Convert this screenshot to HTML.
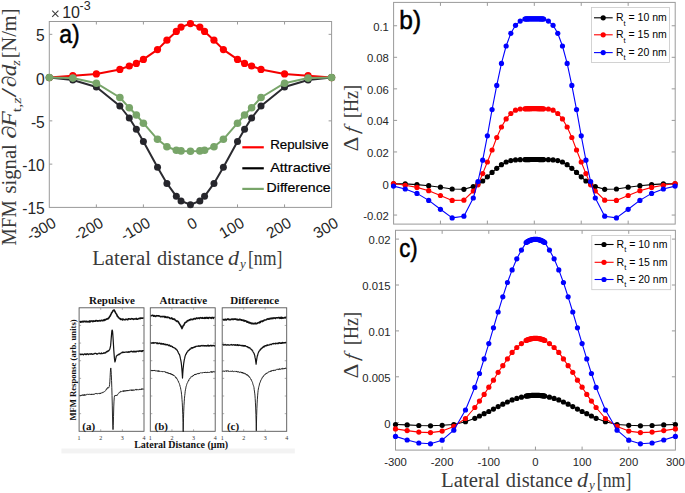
<!DOCTYPE html><html><head><meta charset="utf-8"><title>MFM figure</title><style>html,body{margin:0;padding:0;background:#fff;overflow:hidden}svg{display:block}</style></head><body>
<svg width="685" height="493" viewBox="0 0 685 493">
<rect width="685" height="493" fill="#fff"/>
<rect x="49.3" y="21.5" width="282.3" height="185.9" fill="none" stroke="#9a9a9a" stroke-width="1"/>
<line x1="96.35" y1="207.4" x2="96.35" y2="204.4" stroke="#9a9a9a"/>
<line x1="96.35" y1="21.5" x2="96.35" y2="24.5" stroke="#9a9a9a"/>
<line x1="143.4" y1="207.4" x2="143.4" y2="204.4" stroke="#9a9a9a"/>
<line x1="143.4" y1="21.5" x2="143.4" y2="24.5" stroke="#9a9a9a"/>
<line x1="190.45" y1="207.4" x2="190.45" y2="204.4" stroke="#9a9a9a"/>
<line x1="190.45" y1="21.5" x2="190.45" y2="24.5" stroke="#9a9a9a"/>
<line x1="237.5" y1="207.4" x2="237.5" y2="204.4" stroke="#9a9a9a"/>
<line x1="237.5" y1="21.5" x2="237.5" y2="24.5" stroke="#9a9a9a"/>
<line x1="284.55" y1="207.4" x2="284.55" y2="204.4" stroke="#9a9a9a"/>
<line x1="284.55" y1="21.5" x2="284.55" y2="24.5" stroke="#9a9a9a"/>
<line x1="49.3" y1="34.33" x2="52.3" y2="34.33" stroke="#9a9a9a"/>
<line x1="331.6" y1="34.33" x2="328.6" y2="34.33" stroke="#9a9a9a"/>
<line x1="49.3" y1="77.6" x2="52.3" y2="77.6" stroke="#9a9a9a"/>
<line x1="331.6" y1="77.6" x2="328.6" y2="77.6" stroke="#9a9a9a"/>
<line x1="49.3" y1="120.86" x2="52.3" y2="120.86" stroke="#9a9a9a"/>
<line x1="331.6" y1="120.86" x2="328.6" y2="120.86" stroke="#9a9a9a"/>
<line x1="49.3" y1="164.13" x2="52.3" y2="164.13" stroke="#9a9a9a"/>
<line x1="331.6" y1="164.13" x2="328.6" y2="164.13" stroke="#9a9a9a"/>
<text x="44.8" y="41.33" font-family='"Liberation Sans", sans-serif' font-size="15.6" fill="#262626" text-anchor="end">5</text>
<text x="44.8" y="84.6" font-family='"Liberation Sans", sans-serif' font-size="15.6" fill="#262626" text-anchor="end">0</text>
<text x="44.8" y="127.86" font-family='"Liberation Sans", sans-serif' font-size="15.6" fill="#262626" text-anchor="end">-5</text>
<text x="44.8" y="171.13" font-family='"Liberation Sans", sans-serif' font-size="15.6" fill="#262626" text-anchor="end">-10</text>
<text x="44.8" y="214.4" font-family='"Liberation Sans", sans-serif' font-size="15.6" fill="#262626" text-anchor="end">-15</text>
<text transform="translate(57.3,226) rotate(-30)" font-family='"Liberation Sans", sans-serif' font-size="15.5" fill="#262626" text-anchor="end">-300</text>
<text transform="translate(104.35,226) rotate(-30)" font-family='"Liberation Sans", sans-serif' font-size="15.5" fill="#262626" text-anchor="end">-200</text>
<text transform="translate(151.4,226) rotate(-30)" font-family='"Liberation Sans", sans-serif' font-size="15.5" fill="#262626" text-anchor="end">-100</text>
<text transform="translate(198.45,226) rotate(-30)" font-family='"Liberation Sans", sans-serif' font-size="15.5" fill="#262626" text-anchor="end">0</text>
<text transform="translate(245.5,226) rotate(-30)" font-family='"Liberation Sans", sans-serif' font-size="15.5" fill="#262626" text-anchor="end">100</text>
<text transform="translate(292.55,226) rotate(-30)" font-family='"Liberation Sans", sans-serif' font-size="15.5" fill="#262626" text-anchor="end">200</text>
<text transform="translate(339.6,226) rotate(-30)" font-family='"Liberation Sans", sans-serif' font-size="15.5" fill="#262626" text-anchor="end">300</text>
<path d="M52.2,10.6 L58.4,16.8 M52.2,16.8 L58.4,10.6" stroke="#3a3a3a" stroke-width="1.05" fill="none"/>
<text x="62.2" y="17.9" font-family='"Liberation Sans", sans-serif' font-size="16" fill="#262626">10</text>
<text x="79.6" y="10.2" font-family='"Liberation Sans", sans-serif' font-size="12.5" fill="#262626">-3</text>
<text transform="translate(59.2,42.7) scale(0.87,1)" font-family='"Liberation Sans", sans-serif' font-size="26.5" fill="#000" stroke="#000" stroke-width="0.5">a)</text>
<polyline points="49.3,77.6 72.82,75.7 96.35,73.9 119.87,69.4 129.28,66 136.34,63.4 143.4,59.4 157.51,49.6 166.92,40.2 176.33,31.4 181.04,27.1 190.45,23.6 199.86,27.1 204.56,31.4 213.97,40.2 223.38,49.6 237.5,59.4 244.56,63.4 251.61,66 261.02,69.4 284.55,73.9 308.07,75.7 331.6,77.6" fill="none" stroke="#f40000" stroke-width="2" stroke-linejoin="round"/>
<circle cx="49.3" cy="77.6" r="3.6" fill="#ff0000"/>
<circle cx="72.82" cy="75.7" r="3.6" fill="#ff0000"/>
<circle cx="96.35" cy="73.9" r="3.6" fill="#ff0000"/>
<circle cx="119.87" cy="69.4" r="3.6" fill="#ff0000"/>
<circle cx="129.28" cy="66" r="3.6" fill="#ff0000"/>
<circle cx="136.34" cy="63.4" r="3.6" fill="#ff0000"/>
<circle cx="143.4" cy="59.4" r="3.6" fill="#ff0000"/>
<circle cx="157.51" cy="49.6" r="3.6" fill="#ff0000"/>
<circle cx="166.92" cy="40.2" r="3.6" fill="#ff0000"/>
<circle cx="176.33" cy="31.4" r="3.6" fill="#ff0000"/>
<circle cx="181.04" cy="27.1" r="3.6" fill="#ff0000"/>
<circle cx="190.45" cy="23.6" r="3.6" fill="#ff0000"/>
<circle cx="199.86" cy="27.1" r="3.6" fill="#ff0000"/>
<circle cx="204.56" cy="31.4" r="3.6" fill="#ff0000"/>
<circle cx="213.97" cy="40.2" r="3.6" fill="#ff0000"/>
<circle cx="223.38" cy="49.6" r="3.6" fill="#ff0000"/>
<circle cx="237.5" cy="59.4" r="3.6" fill="#ff0000"/>
<circle cx="244.56" cy="63.4" r="3.6" fill="#ff0000"/>
<circle cx="251.61" cy="66" r="3.6" fill="#ff0000"/>
<circle cx="261.02" cy="69.4" r="3.6" fill="#ff0000"/>
<circle cx="284.55" cy="73.9" r="3.6" fill="#ff0000"/>
<circle cx="308.07" cy="75.7" r="3.6" fill="#ff0000"/>
<circle cx="331.6" cy="77.6" r="3.6" fill="#ff0000"/>
<polyline points="49.3,77.6 72.82,80 96.35,87 119.87,106 129.28,118 136.34,129.2 143.4,141.4 157.51,167.3 166.92,183.4 176.33,196.3 181.04,200.9 190.45,204.7 199.86,200.9 204.56,196.3 213.97,183.4 223.38,167.3 237.5,141.4 244.56,129.2 251.61,118 261.02,106 284.55,87 308.07,80 331.6,77.6" fill="none" stroke="#2b2b30" stroke-width="2" stroke-linejoin="round"/>
<circle cx="49.3" cy="77.6" r="3.5" fill="#26262c"/>
<circle cx="72.82" cy="80" r="3.5" fill="#26262c"/>
<circle cx="96.35" cy="87" r="3.5" fill="#26262c"/>
<circle cx="119.87" cy="106" r="3.5" fill="#26262c"/>
<circle cx="129.28" cy="118" r="3.5" fill="#26262c"/>
<circle cx="136.34" cy="129.2" r="3.5" fill="#26262c"/>
<circle cx="143.4" cy="141.4" r="3.5" fill="#26262c"/>
<circle cx="157.51" cy="167.3" r="3.5" fill="#26262c"/>
<circle cx="166.92" cy="183.4" r="3.5" fill="#26262c"/>
<circle cx="176.33" cy="196.3" r="3.5" fill="#26262c"/>
<circle cx="181.04" cy="200.9" r="3.5" fill="#26262c"/>
<circle cx="190.45" cy="204.7" r="3.5" fill="#26262c"/>
<circle cx="199.86" cy="200.9" r="3.5" fill="#26262c"/>
<circle cx="204.56" cy="196.3" r="3.5" fill="#26262c"/>
<circle cx="213.97" cy="183.4" r="3.5" fill="#26262c"/>
<circle cx="223.38" cy="167.3" r="3.5" fill="#26262c"/>
<circle cx="237.5" cy="141.4" r="3.5" fill="#26262c"/>
<circle cx="244.56" cy="129.2" r="3.5" fill="#26262c"/>
<circle cx="251.61" cy="118" r="3.5" fill="#26262c"/>
<circle cx="261.02" cy="106" r="3.5" fill="#26262c"/>
<circle cx="284.55" cy="87" r="3.5" fill="#26262c"/>
<circle cx="308.07" cy="80" r="3.5" fill="#26262c"/>
<circle cx="331.6" cy="77.6" r="3.5" fill="#26262c"/>
<polyline points="49.3,77.6 72.82,78.1 96.35,83.2 119.87,97.5 129.28,107.8 136.34,115 143.4,123.2 157.51,139.3 166.92,146.7 176.33,150.3 181.04,150.9 190.45,151.2 199.86,150.9 204.56,150.3 213.97,146.7 223.38,139.3 237.5,123.2 244.56,115 251.61,107.8 261.02,97.5 284.55,83.2 308.07,78.1 331.6,77.6" fill="none" stroke="#78a56a" stroke-width="2" stroke-linejoin="round"/>
<circle cx="49.3" cy="77.6" r="3.8" fill="#78a569"/>
<circle cx="72.82" cy="78.1" r="3.8" fill="#78a569"/>
<circle cx="96.35" cy="83.2" r="3.8" fill="#78a569"/>
<circle cx="119.87" cy="97.5" r="3.8" fill="#78a569"/>
<circle cx="129.28" cy="107.8" r="3.8" fill="#78a569"/>
<circle cx="136.34" cy="115" r="3.8" fill="#78a569"/>
<circle cx="143.4" cy="123.2" r="3.8" fill="#78a569"/>
<circle cx="157.51" cy="139.3" r="3.8" fill="#78a569"/>
<circle cx="166.92" cy="146.7" r="3.8" fill="#78a569"/>
<circle cx="176.33" cy="150.3" r="3.8" fill="#78a569"/>
<circle cx="181.04" cy="150.9" r="3.8" fill="#78a569"/>
<circle cx="190.45" cy="151.2" r="3.8" fill="#78a569"/>
<circle cx="199.86" cy="150.9" r="3.8" fill="#78a569"/>
<circle cx="204.56" cy="150.3" r="3.8" fill="#78a569"/>
<circle cx="213.97" cy="146.7" r="3.8" fill="#78a569"/>
<circle cx="223.38" cy="139.3" r="3.8" fill="#78a569"/>
<circle cx="237.5" cy="123.2" r="3.8" fill="#78a569"/>
<circle cx="244.56" cy="115" r="3.8" fill="#78a569"/>
<circle cx="251.61" cy="107.8" r="3.8" fill="#78a569"/>
<circle cx="261.02" cy="97.5" r="3.8" fill="#78a569"/>
<circle cx="284.55" cy="83.2" r="3.8" fill="#78a569"/>
<circle cx="308.07" cy="78.1" r="3.8" fill="#78a569"/>
<circle cx="331.6" cy="77.6" r="3.8" fill="#78a569"/>
<line x1="242.3" y1="147.3" x2="263.8" y2="147.3" stroke="#ff0000" stroke-width="2.2"/>
<line x1="242.3" y1="168.3" x2="263.8" y2="168.3" stroke="#000" stroke-width="2.2"/>
<line x1="242.3" y1="188.9" x2="263.8" y2="188.9" stroke="#78a569" stroke-width="2.2"/>
<text x="270.2" y="149.1" font-family='"Liberation Sans", sans-serif' font-size="13" fill="#000" stroke="#000" stroke-width="0.2" textLength="58.5" lengthAdjust="spacingAndGlyphs">Repulsive</text>
<text x="270.2" y="171.6" font-family='"Liberation Sans", sans-serif' font-size="13" fill="#000" stroke="#000" stroke-width="0.2" textLength="60.3" lengthAdjust="spacingAndGlyphs">Attractive</text>
<text x="266.6" y="192.2" font-family='"Liberation Sans", sans-serif' font-size="13" fill="#000" stroke="#000" stroke-width="0.2" textLength="63.9" lengthAdjust="spacingAndGlyphs">Difference</text>
<text transform="translate(16.4,0) rotate(-90)" x="-245.4" y="0" font-family='"Liberation Serif", serif' font-size="20" fill="#3a3a3a" textLength="45.1" lengthAdjust="spacingAndGlyphs">MFM</text>
<text transform="translate(16.4,0) rotate(-90)" x="-193.6" y="0" font-family='"Liberation Serif", serif' font-size="20" fill="#3a3a3a" textLength="49.4" lengthAdjust="spacingAndGlyphs">signal</text>
<text transform="translate(16.4,0) rotate(-90)" x="-139" y="0" font-family='"Liberation Serif", serif' font-size="20" font-style="italic" fill="#3a3a3a" textLength="13.6" lengthAdjust="spacingAndGlyphs">∂</text>
<text transform="translate(16.4,0) rotate(-90)" x="-127" y="0" font-family='"Liberation Serif", serif' font-size="20" font-style="italic" fill="#3a3a3a" textLength="15.8" lengthAdjust="spacingAndGlyphs">F</text>
<text transform="translate(21,0) rotate(-90)" x="-112.2" y="0" font-family='"Liberation Serif", serif' font-size="13" fill="#3a3a3a" textLength="14.8" lengthAdjust="spacingAndGlyphs">t,<tspan font-style="italic">z</tspan></text>
<text transform="translate(16.4,0) rotate(-90)" x="-97.5" y="0" font-family='"Liberation Serif", serif' font-size="20" fill="#3a3a3a" textLength="9.8" lengthAdjust="spacingAndGlyphs">/</text>
<text transform="translate(16.4,0) rotate(-90)" x="-87.6" y="0" font-family='"Liberation Serif", serif' font-size="20" font-style="italic" fill="#3a3a3a" textLength="11.8" lengthAdjust="spacingAndGlyphs">∂</text>
<text transform="translate(16.4,0) rotate(-90)" x="-76.2" y="0" font-family='"Liberation Serif", serif' font-size="20" font-style="italic" fill="#3a3a3a" textLength="11.6" lengthAdjust="spacingAndGlyphs">d</text>
<text transform="translate(20,0) rotate(-90)" x="-65.8" y="0" font-family='"Liberation Serif", serif' font-size="13" font-style="italic" fill="#3a3a3a" textLength="5.5" lengthAdjust="spacingAndGlyphs">z</text>
<text transform="translate(16.4,0) rotate(-90)" x="-58.2" y="0" font-family='"Liberation Serif", serif' font-size="20" fill="#3a3a3a" textLength="49.6" lengthAdjust="spacingAndGlyphs">[N/m]</text>
<text x="92.2" y="265" font-family='"Liberation Serif", serif' font-size="20" fill="#3a3a3a" textLength="58.8" lengthAdjust="spacingAndGlyphs">Lateral</text>
<text x="156.9" y="265" font-family='"Liberation Serif", serif' font-size="20" fill="#3a3a3a" textLength="66.9" lengthAdjust="spacingAndGlyphs">distance</text>
<text x="228" y="265" font-family='"Liberation Serif", serif' font-size="22" font-style="italic" fill="#3a3a3a">d</text>
<text x="240" y="267.6" font-family='"Liberation Serif", serif' font-size="13" font-style="italic" fill="#3a3a3a">y</text>
<text x="247.9" y="265" font-family='"Liberation Serif", serif' font-size="20" fill="#3a3a3a" textLength="34.5" lengthAdjust="spacingAndGlyphs">[nm]</text>
<rect x="393.6" y="2.4" width="281.6" height="221.7" fill="none" stroke="#9a9a9a" stroke-width="1"/>
<line x1="440.44" y1="224.1" x2="440.44" y2="220.6" stroke="#9a9a9a"/>
<line x1="440.44" y1="2.4" x2="440.44" y2="5.9" stroke="#9a9a9a"/>
<line x1="487.37" y1="224.1" x2="487.37" y2="220.6" stroke="#9a9a9a"/>
<line x1="487.37" y1="2.4" x2="487.37" y2="5.9" stroke="#9a9a9a"/>
<line x1="534.3" y1="224.1" x2="534.3" y2="220.6" stroke="#9a9a9a"/>
<line x1="534.3" y1="2.4" x2="534.3" y2="5.9" stroke="#9a9a9a"/>
<line x1="581.23" y1="224.1" x2="581.23" y2="220.6" stroke="#9a9a9a"/>
<line x1="581.23" y1="2.4" x2="581.23" y2="5.9" stroke="#9a9a9a"/>
<line x1="628.16" y1="224.1" x2="628.16" y2="220.6" stroke="#9a9a9a"/>
<line x1="628.16" y1="2.4" x2="628.16" y2="5.9" stroke="#9a9a9a"/>
<line x1="393.6" y1="25.75" x2="397.1" y2="25.75" stroke="#9a9a9a"/>
<line x1="675.2" y1="25.75" x2="671.7" y2="25.75" stroke="#9a9a9a"/>
<text x="388.9" y="30.75" font-family='"Liberation Sans", sans-serif' font-size="11.3" fill="#262626" text-anchor="end">0.1</text>
<line x1="393.6" y1="57.3" x2="397.1" y2="57.3" stroke="#9a9a9a"/>
<line x1="675.2" y1="57.3" x2="671.7" y2="57.3" stroke="#9a9a9a"/>
<text x="388.9" y="62.3" font-family='"Liberation Sans", sans-serif' font-size="11.3" fill="#262626" text-anchor="end">0.08</text>
<line x1="393.6" y1="88.85" x2="397.1" y2="88.85" stroke="#9a9a9a"/>
<line x1="675.2" y1="88.85" x2="671.7" y2="88.85" stroke="#9a9a9a"/>
<text x="388.9" y="93.85" font-family='"Liberation Sans", sans-serif' font-size="11.3" fill="#262626" text-anchor="end">0.06</text>
<line x1="393.6" y1="120.4" x2="397.1" y2="120.4" stroke="#9a9a9a"/>
<line x1="675.2" y1="120.4" x2="671.7" y2="120.4" stroke="#9a9a9a"/>
<text x="388.9" y="125.4" font-family='"Liberation Sans", sans-serif' font-size="11.3" fill="#262626" text-anchor="end">0.04</text>
<line x1="393.6" y1="151.95" x2="397.1" y2="151.95" stroke="#9a9a9a"/>
<line x1="675.2" y1="151.95" x2="671.7" y2="151.95" stroke="#9a9a9a"/>
<text x="388.9" y="156.95" font-family='"Liberation Sans", sans-serif' font-size="11.3" fill="#262626" text-anchor="end">0.02</text>
<line x1="393.6" y1="183.5" x2="397.1" y2="183.5" stroke="#9a9a9a"/>
<line x1="675.2" y1="183.5" x2="671.7" y2="183.5" stroke="#9a9a9a"/>
<text x="388.9" y="188.5" font-family='"Liberation Sans", sans-serif' font-size="11.3" fill="#262626" text-anchor="end">0</text>
<line x1="393.6" y1="215.05" x2="397.1" y2="215.05" stroke="#9a9a9a"/>
<line x1="675.2" y1="215.05" x2="671.7" y2="215.05" stroke="#9a9a9a"/>
<text x="388.9" y="220.05" font-family='"Liberation Sans", sans-serif' font-size="11.3" fill="#262626" text-anchor="end">-0.02</text>
<text transform="translate(399.3,28.6) scale(0.96,1)" font-family='"Liberation Sans", sans-serif' font-size="25.5" fill="#000" stroke="#000" stroke-width="0.5">b)</text>
<text transform="translate(358.2,0) rotate(-90)" x="-151.5" y="0" font-family='"Liberation Serif", serif' font-size="20" fill="#3a3a3a" textLength="14.9" lengthAdjust="spacingAndGlyphs">Δ</text>
<text transform="translate(358.2,0) rotate(-90) translate(-133.6,0) skewX(-10)" font-family='"Liberation Serif", serif' font-size="20" font-style="italic" fill="#3a3a3a">f</text>
<text transform="translate(358.2,0) rotate(-90)" x="-118" y="0" font-family='"Liberation Serif", serif' font-size="20" fill="#3a3a3a" textLength="33" lengthAdjust="spacingAndGlyphs">[Hz]</text>
<text transform="translate(358.2,0) rotate(-90)" x="-378.5" y="0" font-family='"Liberation Serif", serif' font-size="20" fill="#3a3a3a" textLength="14.9" lengthAdjust="spacingAndGlyphs">Δ</text>
<text transform="translate(358.2,0) rotate(-90) translate(-360.6,0) skewX(-10)" font-family='"Liberation Serif", serif' font-size="20" font-style="italic" fill="#3a3a3a">f</text>
<text transform="translate(358.2,0) rotate(-90)" x="-345" y="0" font-family='"Liberation Serif", serif' font-size="20" fill="#3a3a3a" textLength="33" lengthAdjust="spacingAndGlyphs">[Hz]</text>
<polyline points="393.51,183.9 405.24,183.9 416.97,184.6 428.71,185.7 440.44,187.2 452.17,189 463.9,189.3 473.29,186.6 477.98,183.4 482.68,181 487.37,176.8 492.06,172.4 496.76,168.3 501.45,164.7 506.14,162 510.83,160.6 515.53,159.9 520.22,159.7 524.91,159.6 525.85,159.58 526.79,159.56 527.73,159.55 528.67,159.54 529.61,159.53 530.55,159.52 531.48,159.51 532.42,159.5 533.36,159.5 534.3,159.5 535.24,159.5 536.18,159.5 537.12,159.51 538.05,159.52 538.99,159.53 539.93,159.54 540.87,159.55 541.81,159.56 542.75,159.58 543.69,159.6 548.38,159.7 553.07,159.9 557.76,160.6 562.46,162 567.15,164.7 571.84,168.3 576.54,172.4 581.23,176.8 585.92,181 590.62,183.4 595.31,186.6 604.69,189.3 616.43,189 628.16,187.2 639.89,185.7 651.62,184.6 663.36,183.9 675.09,183.9" fill="none" stroke="#000" stroke-width="1.1" stroke-linejoin="round"/>
<circle cx="393.51" cy="183.9" r="2.6" fill="#000"/>
<circle cx="405.24" cy="183.9" r="2.6" fill="#000"/>
<circle cx="416.97" cy="184.6" r="2.6" fill="#000"/>
<circle cx="428.71" cy="185.7" r="2.6" fill="#000"/>
<circle cx="440.44" cy="187.2" r="2.6" fill="#000"/>
<circle cx="452.17" cy="189" r="2.6" fill="#000"/>
<circle cx="463.9" cy="189.3" r="2.6" fill="#000"/>
<circle cx="473.29" cy="186.6" r="2.6" fill="#000"/>
<circle cx="477.98" cy="183.4" r="2.6" fill="#000"/>
<circle cx="482.68" cy="181" r="2.6" fill="#000"/>
<circle cx="487.37" cy="176.8" r="2.6" fill="#000"/>
<circle cx="492.06" cy="172.4" r="2.6" fill="#000"/>
<circle cx="496.76" cy="168.3" r="2.6" fill="#000"/>
<circle cx="501.45" cy="164.7" r="2.6" fill="#000"/>
<circle cx="506.14" cy="162" r="2.6" fill="#000"/>
<circle cx="510.83" cy="160.6" r="2.6" fill="#000"/>
<circle cx="515.53" cy="159.9" r="2.6" fill="#000"/>
<circle cx="520.22" cy="159.7" r="2.6" fill="#000"/>
<circle cx="524.91" cy="159.6" r="2.6" fill="#000"/>
<circle cx="525.85" cy="159.58" r="2.6" fill="#000"/>
<circle cx="526.79" cy="159.56" r="2.6" fill="#000"/>
<circle cx="527.73" cy="159.55" r="2.6" fill="#000"/>
<circle cx="528.67" cy="159.54" r="2.6" fill="#000"/>
<circle cx="529.61" cy="159.53" r="2.6" fill="#000"/>
<circle cx="530.55" cy="159.52" r="2.6" fill="#000"/>
<circle cx="531.48" cy="159.51" r="2.6" fill="#000"/>
<circle cx="532.42" cy="159.5" r="2.6" fill="#000"/>
<circle cx="533.36" cy="159.5" r="2.6" fill="#000"/>
<circle cx="534.3" cy="159.5" r="2.6" fill="#000"/>
<circle cx="535.24" cy="159.5" r="2.6" fill="#000"/>
<circle cx="536.18" cy="159.5" r="2.6" fill="#000"/>
<circle cx="537.12" cy="159.51" r="2.6" fill="#000"/>
<circle cx="538.05" cy="159.52" r="2.6" fill="#000"/>
<circle cx="538.99" cy="159.53" r="2.6" fill="#000"/>
<circle cx="539.93" cy="159.54" r="2.6" fill="#000"/>
<circle cx="540.87" cy="159.55" r="2.6" fill="#000"/>
<circle cx="541.81" cy="159.56" r="2.6" fill="#000"/>
<circle cx="542.75" cy="159.58" r="2.6" fill="#000"/>
<circle cx="543.69" cy="159.6" r="2.6" fill="#000"/>
<circle cx="548.38" cy="159.7" r="2.6" fill="#000"/>
<circle cx="553.07" cy="159.9" r="2.6" fill="#000"/>
<circle cx="557.76" cy="160.6" r="2.6" fill="#000"/>
<circle cx="562.46" cy="162" r="2.6" fill="#000"/>
<circle cx="567.15" cy="164.7" r="2.6" fill="#000"/>
<circle cx="571.84" cy="168.3" r="2.6" fill="#000"/>
<circle cx="576.54" cy="172.4" r="2.6" fill="#000"/>
<circle cx="581.23" cy="176.8" r="2.6" fill="#000"/>
<circle cx="585.92" cy="181" r="2.6" fill="#000"/>
<circle cx="590.62" cy="183.4" r="2.6" fill="#000"/>
<circle cx="595.31" cy="186.6" r="2.6" fill="#000"/>
<circle cx="604.69" cy="189.3" r="2.6" fill="#000"/>
<circle cx="616.43" cy="189" r="2.6" fill="#000"/>
<circle cx="628.16" cy="187.2" r="2.6" fill="#000"/>
<circle cx="639.89" cy="185.7" r="2.6" fill="#000"/>
<circle cx="651.62" cy="184.6" r="2.6" fill="#000"/>
<circle cx="663.36" cy="183.9" r="2.6" fill="#000"/>
<circle cx="675.09" cy="183.9" r="2.6" fill="#000"/>
<polyline points="393.51,183.5 405.24,185.3 416.97,187.4 428.71,190.7 440.44,195.5 452.17,200.4 463.9,200.2 473.29,191 477.98,184.8 482.68,173.6 487.37,162 492.06,150 496.76,137.5 501.45,127 506.14,118.9 510.83,113.5 515.53,110.2 520.22,109 524.91,108.8 525.85,108.76 526.79,108.73 527.73,108.7 528.67,108.67 529.61,108.65 530.55,108.63 531.48,108.62 532.42,108.61 533.36,108.6 534.3,108.6 535.24,108.6 536.18,108.61 537.12,108.62 538.05,108.63 538.99,108.65 539.93,108.67 540.87,108.7 541.81,108.73 542.75,108.76 543.69,108.8 548.38,109 553.07,110.2 557.76,113.5 562.46,118.9 567.15,127 571.84,137.5 576.54,150 581.23,162 585.92,173.6 590.62,184.8 595.31,191 604.69,200.2 616.43,200.4 628.16,195.5 639.89,190.7 651.62,187.4 663.36,185.3 675.09,183.5" fill="none" stroke="#ff0000" stroke-width="1.1" stroke-linejoin="round"/>
<circle cx="393.51" cy="183.5" r="2.6" fill="#ff0000"/>
<circle cx="405.24" cy="185.3" r="2.6" fill="#ff0000"/>
<circle cx="416.97" cy="187.4" r="2.6" fill="#ff0000"/>
<circle cx="428.71" cy="190.7" r="2.6" fill="#ff0000"/>
<circle cx="440.44" cy="195.5" r="2.6" fill="#ff0000"/>
<circle cx="452.17" cy="200.4" r="2.6" fill="#ff0000"/>
<circle cx="463.9" cy="200.2" r="2.6" fill="#ff0000"/>
<circle cx="473.29" cy="191" r="2.6" fill="#ff0000"/>
<circle cx="477.98" cy="184.8" r="2.6" fill="#ff0000"/>
<circle cx="482.68" cy="173.6" r="2.6" fill="#ff0000"/>
<circle cx="487.37" cy="162" r="2.6" fill="#ff0000"/>
<circle cx="492.06" cy="150" r="2.6" fill="#ff0000"/>
<circle cx="496.76" cy="137.5" r="2.6" fill="#ff0000"/>
<circle cx="501.45" cy="127" r="2.6" fill="#ff0000"/>
<circle cx="506.14" cy="118.9" r="2.6" fill="#ff0000"/>
<circle cx="510.83" cy="113.5" r="2.6" fill="#ff0000"/>
<circle cx="515.53" cy="110.2" r="2.6" fill="#ff0000"/>
<circle cx="520.22" cy="109" r="2.6" fill="#ff0000"/>
<circle cx="524.91" cy="108.8" r="2.6" fill="#ff0000"/>
<circle cx="525.85" cy="108.76" r="2.6" fill="#ff0000"/>
<circle cx="526.79" cy="108.73" r="2.6" fill="#ff0000"/>
<circle cx="527.73" cy="108.7" r="2.6" fill="#ff0000"/>
<circle cx="528.67" cy="108.67" r="2.6" fill="#ff0000"/>
<circle cx="529.61" cy="108.65" r="2.6" fill="#ff0000"/>
<circle cx="530.55" cy="108.63" r="2.6" fill="#ff0000"/>
<circle cx="531.48" cy="108.62" r="2.6" fill="#ff0000"/>
<circle cx="532.42" cy="108.61" r="2.6" fill="#ff0000"/>
<circle cx="533.36" cy="108.6" r="2.6" fill="#ff0000"/>
<circle cx="534.3" cy="108.6" r="2.6" fill="#ff0000"/>
<circle cx="535.24" cy="108.6" r="2.6" fill="#ff0000"/>
<circle cx="536.18" cy="108.61" r="2.6" fill="#ff0000"/>
<circle cx="537.12" cy="108.62" r="2.6" fill="#ff0000"/>
<circle cx="538.05" cy="108.63" r="2.6" fill="#ff0000"/>
<circle cx="538.99" cy="108.65" r="2.6" fill="#ff0000"/>
<circle cx="539.93" cy="108.67" r="2.6" fill="#ff0000"/>
<circle cx="540.87" cy="108.7" r="2.6" fill="#ff0000"/>
<circle cx="541.81" cy="108.73" r="2.6" fill="#ff0000"/>
<circle cx="542.75" cy="108.76" r="2.6" fill="#ff0000"/>
<circle cx="543.69" cy="108.8" r="2.6" fill="#ff0000"/>
<circle cx="548.38" cy="109" r="2.6" fill="#ff0000"/>
<circle cx="553.07" cy="110.2" r="2.6" fill="#ff0000"/>
<circle cx="557.76" cy="113.5" r="2.6" fill="#ff0000"/>
<circle cx="562.46" cy="118.9" r="2.6" fill="#ff0000"/>
<circle cx="567.15" cy="127" r="2.6" fill="#ff0000"/>
<circle cx="571.84" cy="137.5" r="2.6" fill="#ff0000"/>
<circle cx="576.54" cy="150" r="2.6" fill="#ff0000"/>
<circle cx="581.23" cy="162" r="2.6" fill="#ff0000"/>
<circle cx="585.92" cy="173.6" r="2.6" fill="#ff0000"/>
<circle cx="590.62" cy="184.8" r="2.6" fill="#ff0000"/>
<circle cx="595.31" cy="191" r="2.6" fill="#ff0000"/>
<circle cx="604.69" cy="200.2" r="2.6" fill="#ff0000"/>
<circle cx="616.43" cy="200.4" r="2.6" fill="#ff0000"/>
<circle cx="628.16" cy="195.5" r="2.6" fill="#ff0000"/>
<circle cx="639.89" cy="190.7" r="2.6" fill="#ff0000"/>
<circle cx="651.62" cy="187.4" r="2.6" fill="#ff0000"/>
<circle cx="663.36" cy="185.3" r="2.6" fill="#ff0000"/>
<circle cx="675.09" cy="183.5" r="2.6" fill="#ff0000"/>
<polyline points="393.51,186.1 405.24,189 416.97,193.4 428.71,200.4 440.44,209.3 452.17,217.9 463.9,216.2 473.29,198 477.98,181.5 482.68,160.2 487.37,135.8 492.06,109.6 496.76,85.4 501.45,63.4 506.14,46 510.83,33.3 515.53,25.3 520.22,21.1 524.91,19 525.85,18.96 526.79,18.93 527.73,18.9 528.67,18.87 529.61,18.85 530.55,18.83 531.48,18.82 532.42,18.81 533.36,18.8 534.3,18.8 535.24,18.8 536.18,18.81 537.12,18.82 538.05,18.83 538.99,18.85 539.93,18.87 540.87,18.9 541.81,18.93 542.75,18.96 543.69,19 548.38,21.1 553.07,25.3 557.76,33.3 562.46,46 567.15,63.4 571.84,85.4 576.54,109.6 581.23,135.8 585.92,160.2 590.62,181.5 595.31,198 604.69,216.2 616.43,217.9 628.16,209.3 639.89,200.4 651.62,193.4 663.36,189 675.09,186.1" fill="none" stroke="#0000ff" stroke-width="1.1" stroke-linejoin="round"/>
<circle cx="393.51" cy="186.1" r="2.6" fill="#0000ff"/>
<circle cx="405.24" cy="189" r="2.6" fill="#0000ff"/>
<circle cx="416.97" cy="193.4" r="2.6" fill="#0000ff"/>
<circle cx="428.71" cy="200.4" r="2.6" fill="#0000ff"/>
<circle cx="440.44" cy="209.3" r="2.6" fill="#0000ff"/>
<circle cx="452.17" cy="217.9" r="2.6" fill="#0000ff"/>
<circle cx="463.9" cy="216.2" r="2.6" fill="#0000ff"/>
<circle cx="473.29" cy="198" r="2.6" fill="#0000ff"/>
<circle cx="477.98" cy="181.5" r="2.6" fill="#0000ff"/>
<circle cx="482.68" cy="160.2" r="2.6" fill="#0000ff"/>
<circle cx="487.37" cy="135.8" r="2.6" fill="#0000ff"/>
<circle cx="492.06" cy="109.6" r="2.6" fill="#0000ff"/>
<circle cx="496.76" cy="85.4" r="2.6" fill="#0000ff"/>
<circle cx="501.45" cy="63.4" r="2.6" fill="#0000ff"/>
<circle cx="506.14" cy="46" r="2.6" fill="#0000ff"/>
<circle cx="510.83" cy="33.3" r="2.6" fill="#0000ff"/>
<circle cx="515.53" cy="25.3" r="2.6" fill="#0000ff"/>
<circle cx="520.22" cy="21.1" r="2.6" fill="#0000ff"/>
<circle cx="524.91" cy="19" r="2.6" fill="#0000ff"/>
<circle cx="525.85" cy="18.96" r="2.6" fill="#0000ff"/>
<circle cx="526.79" cy="18.93" r="2.6" fill="#0000ff"/>
<circle cx="527.73" cy="18.9" r="2.6" fill="#0000ff"/>
<circle cx="528.67" cy="18.87" r="2.6" fill="#0000ff"/>
<circle cx="529.61" cy="18.85" r="2.6" fill="#0000ff"/>
<circle cx="530.55" cy="18.83" r="2.6" fill="#0000ff"/>
<circle cx="531.48" cy="18.82" r="2.6" fill="#0000ff"/>
<circle cx="532.42" cy="18.81" r="2.6" fill="#0000ff"/>
<circle cx="533.36" cy="18.8" r="2.6" fill="#0000ff"/>
<circle cx="534.3" cy="18.8" r="2.6" fill="#0000ff"/>
<circle cx="535.24" cy="18.8" r="2.6" fill="#0000ff"/>
<circle cx="536.18" cy="18.81" r="2.6" fill="#0000ff"/>
<circle cx="537.12" cy="18.82" r="2.6" fill="#0000ff"/>
<circle cx="538.05" cy="18.83" r="2.6" fill="#0000ff"/>
<circle cx="538.99" cy="18.85" r="2.6" fill="#0000ff"/>
<circle cx="539.93" cy="18.87" r="2.6" fill="#0000ff"/>
<circle cx="540.87" cy="18.9" r="2.6" fill="#0000ff"/>
<circle cx="541.81" cy="18.93" r="2.6" fill="#0000ff"/>
<circle cx="542.75" cy="18.96" r="2.6" fill="#0000ff"/>
<circle cx="543.69" cy="19" r="2.6" fill="#0000ff"/>
<circle cx="548.38" cy="21.1" r="2.6" fill="#0000ff"/>
<circle cx="553.07" cy="25.3" r="2.6" fill="#0000ff"/>
<circle cx="557.76" cy="33.3" r="2.6" fill="#0000ff"/>
<circle cx="562.46" cy="46" r="2.6" fill="#0000ff"/>
<circle cx="567.15" cy="63.4" r="2.6" fill="#0000ff"/>
<circle cx="571.84" cy="85.4" r="2.6" fill="#0000ff"/>
<circle cx="576.54" cy="109.6" r="2.6" fill="#0000ff"/>
<circle cx="581.23" cy="135.8" r="2.6" fill="#0000ff"/>
<circle cx="585.92" cy="160.2" r="2.6" fill="#0000ff"/>
<circle cx="590.62" cy="181.5" r="2.6" fill="#0000ff"/>
<circle cx="595.31" cy="198" r="2.6" fill="#0000ff"/>
<circle cx="604.69" cy="216.2" r="2.6" fill="#0000ff"/>
<circle cx="616.43" cy="217.9" r="2.6" fill="#0000ff"/>
<circle cx="628.16" cy="209.3" r="2.6" fill="#0000ff"/>
<circle cx="639.89" cy="200.4" r="2.6" fill="#0000ff"/>
<circle cx="651.62" cy="193.4" r="2.6" fill="#0000ff"/>
<circle cx="663.36" cy="189" r="2.6" fill="#0000ff"/>
<circle cx="675.09" cy="186.1" r="2.6" fill="#0000ff"/>
<rect x="591.4" y="7.4" width="78.1" height="55.1" fill="#fff" stroke="#c8c8c8" stroke-width="0.8"/>
<line x1="594" y1="17.8" x2="612.7" y2="17.8" stroke="#000" stroke-width="1.1"/>
<circle cx="603.2" cy="17.8" r="2.6" fill="#000"/>
<text x="615.9" y="21.4" font-family='"Liberation Sans", sans-serif' font-size="10.5" fill="#000">R<tspan font-size="7.5" dy="4.2">t</tspan><tspan dy="-4.2"> = 10 nm</tspan></text>
<line x1="594" y1="34.8" x2="612.7" y2="34.8" stroke="#ff0000" stroke-width="1.1"/>
<circle cx="603.2" cy="34.8" r="2.6" fill="#ff0000"/>
<text x="615.9" y="38.4" font-family='"Liberation Sans", sans-serif' font-size="10.5" fill="#000">R<tspan font-size="7.5" dy="4.2">t</tspan><tspan dy="-4.2"> = 15 nm</tspan></text>
<line x1="594" y1="52.6" x2="612.7" y2="52.6" stroke="#0000ff" stroke-width="1.1"/>
<circle cx="603.2" cy="52.6" r="2.6" fill="#0000ff"/>
<text x="615.9" y="56.2" font-family='"Liberation Sans", sans-serif' font-size="10.5" fill="#000">R<tspan font-size="7.5" dy="4.2">t</tspan><tspan dy="-4.2"> = 20 nm</tspan></text>
<rect x="395.5" y="230.3" width="279.9" height="219.8" fill="none" stroke="#9a9a9a" stroke-width="1"/>
<line x1="442.15" y1="450.1" x2="442.15" y2="446.6" stroke="#9a9a9a"/>
<line x1="442.15" y1="230.3" x2="442.15" y2="233.8" stroke="#9a9a9a"/>
<line x1="488.8" y1="450.1" x2="488.8" y2="446.6" stroke="#9a9a9a"/>
<line x1="488.8" y1="230.3" x2="488.8" y2="233.8" stroke="#9a9a9a"/>
<line x1="535.45" y1="450.1" x2="535.45" y2="446.6" stroke="#9a9a9a"/>
<line x1="535.45" y1="230.3" x2="535.45" y2="233.8" stroke="#9a9a9a"/>
<line x1="582.1" y1="450.1" x2="582.1" y2="446.6" stroke="#9a9a9a"/>
<line x1="582.1" y1="230.3" x2="582.1" y2="233.8" stroke="#9a9a9a"/>
<line x1="628.75" y1="450.1" x2="628.75" y2="446.6" stroke="#9a9a9a"/>
<line x1="628.75" y1="230.3" x2="628.75" y2="233.8" stroke="#9a9a9a"/>
<text x="395.5" y="465.7" font-family='"Liberation Sans", sans-serif' font-size="11.3" fill="#262626" text-anchor="middle">-300</text>
<text x="442.15" y="465.7" font-family='"Liberation Sans", sans-serif' font-size="11.3" fill="#262626" text-anchor="middle">-200</text>
<text x="488.8" y="465.7" font-family='"Liberation Sans", sans-serif' font-size="11.3" fill="#262626" text-anchor="middle">-100</text>
<text x="535.45" y="465.7" font-family='"Liberation Sans", sans-serif' font-size="11.3" fill="#262626" text-anchor="middle">0</text>
<text x="582.1" y="465.7" font-family='"Liberation Sans", sans-serif' font-size="11.3" fill="#262626" text-anchor="middle">100</text>
<text x="628.75" y="465.7" font-family='"Liberation Sans", sans-serif' font-size="11.3" fill="#262626" text-anchor="middle">200</text>
<text x="675.4" y="465.7" font-family='"Liberation Sans", sans-serif' font-size="11.3" fill="#262626" text-anchor="middle">300</text>
<line x1="395.5" y1="239.1" x2="399.0" y2="239.1" stroke="#9a9a9a"/>
<line x1="675.4" y1="239.1" x2="671.9" y2="239.1" stroke="#9a9a9a"/>
<text x="390.6" y="244.1" font-family='"Liberation Sans", sans-serif' font-size="11.3" fill="#262626" text-anchor="end">0.02</text>
<line x1="395.5" y1="285" x2="399.0" y2="285" stroke="#9a9a9a"/>
<line x1="675.4" y1="285" x2="671.9" y2="285" stroke="#9a9a9a"/>
<text x="390.6" y="290" font-family='"Liberation Sans", sans-serif' font-size="11.3" fill="#262626" text-anchor="end">0.015</text>
<line x1="395.5" y1="330.9" x2="399.0" y2="330.9" stroke="#9a9a9a"/>
<line x1="675.4" y1="330.9" x2="671.9" y2="330.9" stroke="#9a9a9a"/>
<text x="390.6" y="335.9" font-family='"Liberation Sans", sans-serif' font-size="11.3" fill="#262626" text-anchor="end">0.01</text>
<line x1="395.5" y1="376.8" x2="399.0" y2="376.8" stroke="#9a9a9a"/>
<line x1="675.4" y1="376.8" x2="671.9" y2="376.8" stroke="#9a9a9a"/>
<text x="390.6" y="381.8" font-family='"Liberation Sans", sans-serif' font-size="11.3" fill="#262626" text-anchor="end">0.005</text>
<line x1="395.5" y1="422.7" x2="399.0" y2="422.7" stroke="#9a9a9a"/>
<line x1="675.4" y1="422.7" x2="671.9" y2="422.7" stroke="#9a9a9a"/>
<text x="390.6" y="427.7" font-family='"Liberation Sans", sans-serif' font-size="11.3" fill="#262626" text-anchor="end">0</text>
<text transform="translate(399.2,257.4) scale(0.87,1)" font-family='"Liberation Sans", sans-serif' font-size="25.5" fill="#000" stroke="#000" stroke-width="0.5">c)</text>
<text x="441.1" y="486.5" font-family='"Liberation Serif", serif' font-size="20" fill="#3a3a3a" textLength="58.8" lengthAdjust="spacingAndGlyphs">Lateral</text>
<text x="505.8" y="486.5" font-family='"Liberation Serif", serif' font-size="20" fill="#3a3a3a" textLength="66.9" lengthAdjust="spacingAndGlyphs">distance</text>
<text x="576.9" y="486.5" font-family='"Liberation Serif", serif' font-size="22" font-style="italic" fill="#3a3a3a">d</text>
<text x="588.9" y="489.1" font-family='"Liberation Serif", serif' font-size="13" font-style="italic" fill="#3a3a3a">y</text>
<text x="596.8" y="486.5" font-family='"Liberation Serif", serif' font-size="20" fill="#3a3a3a" textLength="34.5" lengthAdjust="spacingAndGlyphs">[nm]</text>
<polyline points="395.5,424.5 407.16,424.9 418.83,425.5 430.49,425.8 442.15,425.3 453.81,424.5 465.48,421.7 474.81,418.3 479.47,416 484.14,413.7 488.8,411.5 493.47,409.1 498.13,406.6 502.8,404.2 507.46,402 512.12,399.9 516.79,398.4 521.46,397.2 526.12,396.1 527.05,395.95 527.99,395.81 528.92,395.69 529.85,395.59 530.79,395.5 531.72,395.43 532.65,395.37 533.58,395.33 534.52,395.31 535.45,395.3 536.38,395.31 537.32,395.33 538.25,395.37 539.18,395.43 540.12,395.5 541.05,395.59 541.98,395.69 542.91,395.81 543.85,395.95 544.78,396.1 549.45,397.2 554.11,398.4 558.78,399.9 563.44,402 568.11,404.2 572.77,406.6 577.44,409.1 582.1,411.5 586.77,413.7 591.43,416 596.1,418.3 605.43,421.7 617.09,424.5 628.75,425.3 640.41,425.8 652.08,425.5 663.74,424.9 675.4,424.5" fill="none" stroke="#000" stroke-width="1.1" stroke-linejoin="round"/>
<circle cx="395.5" cy="424.5" r="2.6" fill="#000"/>
<circle cx="407.16" cy="424.9" r="2.6" fill="#000"/>
<circle cx="418.83" cy="425.5" r="2.6" fill="#000"/>
<circle cx="430.49" cy="425.8" r="2.6" fill="#000"/>
<circle cx="442.15" cy="425.3" r="2.6" fill="#000"/>
<circle cx="453.81" cy="424.5" r="2.6" fill="#000"/>
<circle cx="465.48" cy="421.7" r="2.6" fill="#000"/>
<circle cx="474.81" cy="418.3" r="2.6" fill="#000"/>
<circle cx="479.47" cy="416" r="2.6" fill="#000"/>
<circle cx="484.14" cy="413.7" r="2.6" fill="#000"/>
<circle cx="488.8" cy="411.5" r="2.6" fill="#000"/>
<circle cx="493.47" cy="409.1" r="2.6" fill="#000"/>
<circle cx="498.13" cy="406.6" r="2.6" fill="#000"/>
<circle cx="502.8" cy="404.2" r="2.6" fill="#000"/>
<circle cx="507.46" cy="402" r="2.6" fill="#000"/>
<circle cx="512.12" cy="399.9" r="2.6" fill="#000"/>
<circle cx="516.79" cy="398.4" r="2.6" fill="#000"/>
<circle cx="521.46" cy="397.2" r="2.6" fill="#000"/>
<circle cx="526.12" cy="396.1" r="2.6" fill="#000"/>
<circle cx="527.05" cy="395.95" r="2.6" fill="#000"/>
<circle cx="527.99" cy="395.81" r="2.6" fill="#000"/>
<circle cx="528.92" cy="395.69" r="2.6" fill="#000"/>
<circle cx="529.85" cy="395.59" r="2.6" fill="#000"/>
<circle cx="530.79" cy="395.5" r="2.6" fill="#000"/>
<circle cx="531.72" cy="395.43" r="2.6" fill="#000"/>
<circle cx="532.65" cy="395.37" r="2.6" fill="#000"/>
<circle cx="533.58" cy="395.33" r="2.6" fill="#000"/>
<circle cx="534.52" cy="395.31" r="2.6" fill="#000"/>
<circle cx="535.45" cy="395.3" r="2.6" fill="#000"/>
<circle cx="536.38" cy="395.31" r="2.6" fill="#000"/>
<circle cx="537.32" cy="395.33" r="2.6" fill="#000"/>
<circle cx="538.25" cy="395.37" r="2.6" fill="#000"/>
<circle cx="539.18" cy="395.43" r="2.6" fill="#000"/>
<circle cx="540.12" cy="395.5" r="2.6" fill="#000"/>
<circle cx="541.05" cy="395.59" r="2.6" fill="#000"/>
<circle cx="541.98" cy="395.69" r="2.6" fill="#000"/>
<circle cx="542.91" cy="395.81" r="2.6" fill="#000"/>
<circle cx="543.85" cy="395.95" r="2.6" fill="#000"/>
<circle cx="544.78" cy="396.1" r="2.6" fill="#000"/>
<circle cx="549.45" cy="397.2" r="2.6" fill="#000"/>
<circle cx="554.11" cy="398.4" r="2.6" fill="#000"/>
<circle cx="558.78" cy="399.9" r="2.6" fill="#000"/>
<circle cx="563.44" cy="402" r="2.6" fill="#000"/>
<circle cx="568.11" cy="404.2" r="2.6" fill="#000"/>
<circle cx="572.77" cy="406.6" r="2.6" fill="#000"/>
<circle cx="577.44" cy="409.1" r="2.6" fill="#000"/>
<circle cx="582.1" cy="411.5" r="2.6" fill="#000"/>
<circle cx="586.77" cy="413.7" r="2.6" fill="#000"/>
<circle cx="591.43" cy="416" r="2.6" fill="#000"/>
<circle cx="596.1" cy="418.3" r="2.6" fill="#000"/>
<circle cx="605.43" cy="421.7" r="2.6" fill="#000"/>
<circle cx="617.09" cy="424.5" r="2.6" fill="#000"/>
<circle cx="628.75" cy="425.3" r="2.6" fill="#000"/>
<circle cx="640.41" cy="425.8" r="2.6" fill="#000"/>
<circle cx="652.08" cy="425.5" r="2.6" fill="#000"/>
<circle cx="663.74" cy="424.9" r="2.6" fill="#000"/>
<circle cx="675.4" cy="424.5" r="2.6" fill="#000"/>
<polyline points="395.5,428.9 407.16,430.6 418.83,432.1 430.49,432.6 442.15,431.1 453.81,426.4 465.48,418.5 474.81,407.5 479.47,401.1 484.14,394.4 488.8,387.2 493.47,380.2 498.13,372.3 502.8,365.7 507.46,358.9 512.12,352.4 516.79,347.5 521.46,343.6 526.12,340.4 527.05,340 527.99,339.64 528.92,339.33 529.85,339.06 530.79,338.82 531.72,338.64 532.65,338.49 533.58,338.38 534.52,338.32 535.45,338.3 536.38,338.32 537.32,338.38 538.25,338.49 539.18,338.64 540.12,338.82 541.05,339.06 541.98,339.33 542.91,339.64 543.85,340 544.78,340.4 549.45,343.6 554.11,347.5 558.78,352.4 563.44,358.9 568.11,365.7 572.77,372.3 577.44,380.2 582.1,387.2 586.77,394.4 591.43,401.1 596.1,407.5 605.43,418.5 617.09,426.4 628.75,431.1 640.41,432.6 652.08,432.1 663.74,430.6 675.4,428.9" fill="none" stroke="#ff0000" stroke-width="1.1" stroke-linejoin="round"/>
<circle cx="395.5" cy="428.9" r="2.6" fill="#ff0000"/>
<circle cx="407.16" cy="430.6" r="2.6" fill="#ff0000"/>
<circle cx="418.83" cy="432.1" r="2.6" fill="#ff0000"/>
<circle cx="430.49" cy="432.6" r="2.6" fill="#ff0000"/>
<circle cx="442.15" cy="431.1" r="2.6" fill="#ff0000"/>
<circle cx="453.81" cy="426.4" r="2.6" fill="#ff0000"/>
<circle cx="465.48" cy="418.5" r="2.6" fill="#ff0000"/>
<circle cx="474.81" cy="407.5" r="2.6" fill="#ff0000"/>
<circle cx="479.47" cy="401.1" r="2.6" fill="#ff0000"/>
<circle cx="484.14" cy="394.4" r="2.6" fill="#ff0000"/>
<circle cx="488.8" cy="387.2" r="2.6" fill="#ff0000"/>
<circle cx="493.47" cy="380.2" r="2.6" fill="#ff0000"/>
<circle cx="498.13" cy="372.3" r="2.6" fill="#ff0000"/>
<circle cx="502.8" cy="365.7" r="2.6" fill="#ff0000"/>
<circle cx="507.46" cy="358.9" r="2.6" fill="#ff0000"/>
<circle cx="512.12" cy="352.4" r="2.6" fill="#ff0000"/>
<circle cx="516.79" cy="347.5" r="2.6" fill="#ff0000"/>
<circle cx="521.46" cy="343.6" r="2.6" fill="#ff0000"/>
<circle cx="526.12" cy="340.4" r="2.6" fill="#ff0000"/>
<circle cx="527.05" cy="340" r="2.6" fill="#ff0000"/>
<circle cx="527.99" cy="339.64" r="2.6" fill="#ff0000"/>
<circle cx="528.92" cy="339.33" r="2.6" fill="#ff0000"/>
<circle cx="529.85" cy="339.06" r="2.6" fill="#ff0000"/>
<circle cx="530.79" cy="338.82" r="2.6" fill="#ff0000"/>
<circle cx="531.72" cy="338.64" r="2.6" fill="#ff0000"/>
<circle cx="532.65" cy="338.49" r="2.6" fill="#ff0000"/>
<circle cx="533.58" cy="338.38" r="2.6" fill="#ff0000"/>
<circle cx="534.52" cy="338.32" r="2.6" fill="#ff0000"/>
<circle cx="535.45" cy="338.3" r="2.6" fill="#ff0000"/>
<circle cx="536.38" cy="338.32" r="2.6" fill="#ff0000"/>
<circle cx="537.32" cy="338.38" r="2.6" fill="#ff0000"/>
<circle cx="538.25" cy="338.49" r="2.6" fill="#ff0000"/>
<circle cx="539.18" cy="338.64" r="2.6" fill="#ff0000"/>
<circle cx="540.12" cy="338.82" r="2.6" fill="#ff0000"/>
<circle cx="541.05" cy="339.06" r="2.6" fill="#ff0000"/>
<circle cx="541.98" cy="339.33" r="2.6" fill="#ff0000"/>
<circle cx="542.91" cy="339.64" r="2.6" fill="#ff0000"/>
<circle cx="543.85" cy="340" r="2.6" fill="#ff0000"/>
<circle cx="544.78" cy="340.4" r="2.6" fill="#ff0000"/>
<circle cx="549.45" cy="343.6" r="2.6" fill="#ff0000"/>
<circle cx="554.11" cy="347.5" r="2.6" fill="#ff0000"/>
<circle cx="558.78" cy="352.4" r="2.6" fill="#ff0000"/>
<circle cx="563.44" cy="358.9" r="2.6" fill="#ff0000"/>
<circle cx="568.11" cy="365.7" r="2.6" fill="#ff0000"/>
<circle cx="572.77" cy="372.3" r="2.6" fill="#ff0000"/>
<circle cx="577.44" cy="380.2" r="2.6" fill="#ff0000"/>
<circle cx="582.1" cy="387.2" r="2.6" fill="#ff0000"/>
<circle cx="586.77" cy="394.4" r="2.6" fill="#ff0000"/>
<circle cx="591.43" cy="401.1" r="2.6" fill="#ff0000"/>
<circle cx="596.1" cy="407.5" r="2.6" fill="#ff0000"/>
<circle cx="605.43" cy="418.5" r="2.6" fill="#ff0000"/>
<circle cx="617.09" cy="426.4" r="2.6" fill="#ff0000"/>
<circle cx="628.75" cy="431.1" r="2.6" fill="#ff0000"/>
<circle cx="640.41" cy="432.6" r="2.6" fill="#ff0000"/>
<circle cx="652.08" cy="432.1" r="2.6" fill="#ff0000"/>
<circle cx="663.74" cy="430.6" r="2.6" fill="#ff0000"/>
<circle cx="675.4" cy="428.9" r="2.6" fill="#ff0000"/>
<polyline points="395.5,436.4 407.16,440 418.83,443 430.49,443.8 442.15,440.2 453.81,430.2 465.48,410 474.81,387.4 479.47,373.5 484.14,358.9 488.8,343.6 493.47,327.8 498.13,312 502.8,296.8 507.46,282.5 512.12,269.9 516.79,258.8 521.46,250.1 526.12,242.5 527.05,241.89 527.99,241.35 528.92,240.87 529.85,240.45 530.79,240.1 531.72,239.81 532.65,239.59 533.58,239.43 534.52,239.33 535.45,239.3 536.38,239.33 537.32,239.43 538.25,239.59 539.18,239.81 540.12,240.1 541.05,240.45 541.98,240.87 542.91,241.35 543.85,241.89 544.78,242.5 549.45,250.1 554.11,258.8 558.78,269.9 563.44,282.5 568.11,296.8 572.77,312 577.44,327.8 582.1,343.6 586.77,358.9 591.43,373.5 596.1,387.4 605.43,410 617.09,430.2 628.75,440.2 640.41,443.8 652.08,443 663.74,440 675.4,436.4" fill="none" stroke="#0000ff" stroke-width="1.1" stroke-linejoin="round"/>
<circle cx="395.5" cy="436.4" r="2.6" fill="#0000ff"/>
<circle cx="407.16" cy="440" r="2.6" fill="#0000ff"/>
<circle cx="418.83" cy="443" r="2.6" fill="#0000ff"/>
<circle cx="430.49" cy="443.8" r="2.6" fill="#0000ff"/>
<circle cx="442.15" cy="440.2" r="2.6" fill="#0000ff"/>
<circle cx="453.81" cy="430.2" r="2.6" fill="#0000ff"/>
<circle cx="465.48" cy="410" r="2.6" fill="#0000ff"/>
<circle cx="474.81" cy="387.4" r="2.6" fill="#0000ff"/>
<circle cx="479.47" cy="373.5" r="2.6" fill="#0000ff"/>
<circle cx="484.14" cy="358.9" r="2.6" fill="#0000ff"/>
<circle cx="488.8" cy="343.6" r="2.6" fill="#0000ff"/>
<circle cx="493.47" cy="327.8" r="2.6" fill="#0000ff"/>
<circle cx="498.13" cy="312" r="2.6" fill="#0000ff"/>
<circle cx="502.8" cy="296.8" r="2.6" fill="#0000ff"/>
<circle cx="507.46" cy="282.5" r="2.6" fill="#0000ff"/>
<circle cx="512.12" cy="269.9" r="2.6" fill="#0000ff"/>
<circle cx="516.79" cy="258.8" r="2.6" fill="#0000ff"/>
<circle cx="521.46" cy="250.1" r="2.6" fill="#0000ff"/>
<circle cx="526.12" cy="242.5" r="2.6" fill="#0000ff"/>
<circle cx="527.05" cy="241.89" r="2.6" fill="#0000ff"/>
<circle cx="527.99" cy="241.35" r="2.6" fill="#0000ff"/>
<circle cx="528.92" cy="240.87" r="2.6" fill="#0000ff"/>
<circle cx="529.85" cy="240.45" r="2.6" fill="#0000ff"/>
<circle cx="530.79" cy="240.1" r="2.6" fill="#0000ff"/>
<circle cx="531.72" cy="239.81" r="2.6" fill="#0000ff"/>
<circle cx="532.65" cy="239.59" r="2.6" fill="#0000ff"/>
<circle cx="533.58" cy="239.43" r="2.6" fill="#0000ff"/>
<circle cx="534.52" cy="239.33" r="2.6" fill="#0000ff"/>
<circle cx="535.45" cy="239.3" r="2.6" fill="#0000ff"/>
<circle cx="536.38" cy="239.33" r="2.6" fill="#0000ff"/>
<circle cx="537.32" cy="239.43" r="2.6" fill="#0000ff"/>
<circle cx="538.25" cy="239.59" r="2.6" fill="#0000ff"/>
<circle cx="539.18" cy="239.81" r="2.6" fill="#0000ff"/>
<circle cx="540.12" cy="240.1" r="2.6" fill="#0000ff"/>
<circle cx="541.05" cy="240.45" r="2.6" fill="#0000ff"/>
<circle cx="541.98" cy="240.87" r="2.6" fill="#0000ff"/>
<circle cx="542.91" cy="241.35" r="2.6" fill="#0000ff"/>
<circle cx="543.85" cy="241.89" r="2.6" fill="#0000ff"/>
<circle cx="544.78" cy="242.5" r="2.6" fill="#0000ff"/>
<circle cx="549.45" cy="250.1" r="2.6" fill="#0000ff"/>
<circle cx="554.11" cy="258.8" r="2.6" fill="#0000ff"/>
<circle cx="558.78" cy="269.9" r="2.6" fill="#0000ff"/>
<circle cx="563.44" cy="282.5" r="2.6" fill="#0000ff"/>
<circle cx="568.11" cy="296.8" r="2.6" fill="#0000ff"/>
<circle cx="572.77" cy="312" r="2.6" fill="#0000ff"/>
<circle cx="577.44" cy="327.8" r="2.6" fill="#0000ff"/>
<circle cx="582.1" cy="343.6" r="2.6" fill="#0000ff"/>
<circle cx="586.77" cy="358.9" r="2.6" fill="#0000ff"/>
<circle cx="591.43" cy="373.5" r="2.6" fill="#0000ff"/>
<circle cx="596.1" cy="387.4" r="2.6" fill="#0000ff"/>
<circle cx="605.43" cy="410" r="2.6" fill="#0000ff"/>
<circle cx="617.09" cy="430.2" r="2.6" fill="#0000ff"/>
<circle cx="628.75" cy="440.2" r="2.6" fill="#0000ff"/>
<circle cx="640.41" cy="443.8" r="2.6" fill="#0000ff"/>
<circle cx="652.08" cy="443" r="2.6" fill="#0000ff"/>
<circle cx="663.74" cy="440" r="2.6" fill="#0000ff"/>
<circle cx="675.4" cy="436.4" r="2.6" fill="#0000ff"/>
<rect x="591.8" y="235.4" width="78.9" height="54.3" fill="#fff" stroke="#c8c8c8" stroke-width="0.8"/>
<line x1="594.6" y1="244.5" x2="613.6" y2="244.5" stroke="#000" stroke-width="1.1"/>
<circle cx="604" cy="244.5" r="2.6" fill="#000"/>
<text x="616.6" y="248.1" font-family='"Liberation Sans", sans-serif' font-size="10.5" fill="#000">R<tspan font-size="7.5" dy="4.2">t</tspan><tspan dy="-4.2"> = 10 nm</tspan></text>
<line x1="594.6" y1="262.3" x2="613.6" y2="262.3" stroke="#ff0000" stroke-width="1.1"/>
<circle cx="604" cy="262.3" r="2.6" fill="#ff0000"/>
<text x="616.6" y="265.9" font-family='"Liberation Sans", sans-serif' font-size="10.5" fill="#000">R<tspan font-size="7.5" dy="4.2">t</tspan><tspan dy="-4.2"> = 15 nm</tspan></text>
<line x1="594.6" y1="279.5" x2="613.6" y2="279.5" stroke="#0000ff" stroke-width="1.1"/>
<circle cx="604" cy="279.5" r="2.6" fill="#0000ff"/>
<text x="616.6" y="283.1" font-family='"Liberation Sans", sans-serif' font-size="10.5" fill="#000">R<tspan font-size="7.5" dy="4.2">t</tspan><tspan dy="-4.2"> = 20 nm</tspan></text>
<rect x="61.4" y="448.5" width="233.4" height="4.9" fill="#f3f3f3"/>
<rect x="79.1" y="307.8" width="64.9" height="123.5" fill="none" stroke="#555" stroke-width="0.9"/>
<line x1="100.73" y1="431.3" x2="100.73" y2="429.3" stroke="#777" stroke-width="0.6"/>
<line x1="100.73" y1="307.8" x2="100.73" y2="309.8" stroke="#777" stroke-width="0.6"/>
<line x1="122.37" y1="431.3" x2="122.37" y2="429.3" stroke="#777" stroke-width="0.6"/>
<line x1="122.37" y1="307.8" x2="122.37" y2="309.8" stroke="#777" stroke-width="0.6"/>
<line x1="79.1" y1="325.44" x2="81.1" y2="325.44" stroke="#777" stroke-width="0.6"/>
<line x1="144.0" y1="325.44" x2="142.0" y2="325.44" stroke="#777" stroke-width="0.6"/>
<line x1="79.1" y1="343.09" x2="81.1" y2="343.09" stroke="#777" stroke-width="0.6"/>
<line x1="144.0" y1="343.09" x2="142.0" y2="343.09" stroke="#777" stroke-width="0.6"/>
<line x1="79.1" y1="360.73" x2="81.1" y2="360.73" stroke="#777" stroke-width="0.6"/>
<line x1="144.0" y1="360.73" x2="142.0" y2="360.73" stroke="#777" stroke-width="0.6"/>
<line x1="79.1" y1="378.37" x2="81.1" y2="378.37" stroke="#777" stroke-width="0.6"/>
<line x1="144.0" y1="378.37" x2="142.0" y2="378.37" stroke="#777" stroke-width="0.6"/>
<line x1="79.1" y1="396.01" x2="81.1" y2="396.01" stroke="#777" stroke-width="0.6"/>
<line x1="144.0" y1="396.01" x2="142.0" y2="396.01" stroke="#777" stroke-width="0.6"/>
<line x1="79.1" y1="413.66" x2="81.1" y2="413.66" stroke="#777" stroke-width="0.6"/>
<line x1="144.0" y1="413.66" x2="142.0" y2="413.66" stroke="#777" stroke-width="0.6"/>
<text x="79.1" y="439.5" font-family='"Liberation Serif", serif' font-size="6" fill="#333" text-anchor="middle">1</text>
<text x="100.73" y="439.5" font-family='"Liberation Serif", serif' font-size="6" fill="#333" text-anchor="middle">2</text>
<text x="122.37" y="439.5" font-family='"Liberation Serif", serif' font-size="6" fill="#333" text-anchor="middle">3</text>
<text x="144" y="439.5" font-family='"Liberation Serif", serif' font-size="6" fill="#333" text-anchor="middle">4</text>
<rect x="150.3" y="307.8" width="64.9" height="123.5" fill="none" stroke="#555" stroke-width="0.9"/>
<line x1="171.93" y1="431.3" x2="171.93" y2="429.3" stroke="#777" stroke-width="0.6"/>
<line x1="171.93" y1="307.8" x2="171.93" y2="309.8" stroke="#777" stroke-width="0.6"/>
<line x1="193.57" y1="431.3" x2="193.57" y2="429.3" stroke="#777" stroke-width="0.6"/>
<line x1="193.57" y1="307.8" x2="193.57" y2="309.8" stroke="#777" stroke-width="0.6"/>
<line x1="150.3" y1="325.44" x2="152.3" y2="325.44" stroke="#777" stroke-width="0.6"/>
<line x1="215.2" y1="325.44" x2="213.2" y2="325.44" stroke="#777" stroke-width="0.6"/>
<line x1="150.3" y1="343.09" x2="152.3" y2="343.09" stroke="#777" stroke-width="0.6"/>
<line x1="215.2" y1="343.09" x2="213.2" y2="343.09" stroke="#777" stroke-width="0.6"/>
<line x1="150.3" y1="360.73" x2="152.3" y2="360.73" stroke="#777" stroke-width="0.6"/>
<line x1="215.2" y1="360.73" x2="213.2" y2="360.73" stroke="#777" stroke-width="0.6"/>
<line x1="150.3" y1="378.37" x2="152.3" y2="378.37" stroke="#777" stroke-width="0.6"/>
<line x1="215.2" y1="378.37" x2="213.2" y2="378.37" stroke="#777" stroke-width="0.6"/>
<line x1="150.3" y1="396.01" x2="152.3" y2="396.01" stroke="#777" stroke-width="0.6"/>
<line x1="215.2" y1="396.01" x2="213.2" y2="396.01" stroke="#777" stroke-width="0.6"/>
<line x1="150.3" y1="413.66" x2="152.3" y2="413.66" stroke="#777" stroke-width="0.6"/>
<line x1="215.2" y1="413.66" x2="213.2" y2="413.66" stroke="#777" stroke-width="0.6"/>
<text x="150.3" y="439.5" font-family='"Liberation Serif", serif' font-size="6" fill="#333" text-anchor="middle">1</text>
<text x="171.93" y="439.5" font-family='"Liberation Serif", serif' font-size="6" fill="#333" text-anchor="middle">2</text>
<text x="193.57" y="439.5" font-family='"Liberation Serif", serif' font-size="6" fill="#333" text-anchor="middle">3</text>
<text x="215.2" y="439.5" font-family='"Liberation Serif", serif' font-size="6" fill="#333" text-anchor="middle">4</text>
<rect x="222.2" y="307.8" width="64.5" height="123.5" fill="none" stroke="#555" stroke-width="0.9"/>
<line x1="243.7" y1="431.3" x2="243.7" y2="429.3" stroke="#777" stroke-width="0.6"/>
<line x1="243.7" y1="307.8" x2="243.7" y2="309.8" stroke="#777" stroke-width="0.6"/>
<line x1="265.2" y1="431.3" x2="265.2" y2="429.3" stroke="#777" stroke-width="0.6"/>
<line x1="265.2" y1="307.8" x2="265.2" y2="309.8" stroke="#777" stroke-width="0.6"/>
<line x1="222.2" y1="325.44" x2="224.2" y2="325.44" stroke="#777" stroke-width="0.6"/>
<line x1="286.7" y1="325.44" x2="284.7" y2="325.44" stroke="#777" stroke-width="0.6"/>
<line x1="222.2" y1="343.09" x2="224.2" y2="343.09" stroke="#777" stroke-width="0.6"/>
<line x1="286.7" y1="343.09" x2="284.7" y2="343.09" stroke="#777" stroke-width="0.6"/>
<line x1="222.2" y1="360.73" x2="224.2" y2="360.73" stroke="#777" stroke-width="0.6"/>
<line x1="286.7" y1="360.73" x2="284.7" y2="360.73" stroke="#777" stroke-width="0.6"/>
<line x1="222.2" y1="378.37" x2="224.2" y2="378.37" stroke="#777" stroke-width="0.6"/>
<line x1="286.7" y1="378.37" x2="284.7" y2="378.37" stroke="#777" stroke-width="0.6"/>
<line x1="222.2" y1="396.01" x2="224.2" y2="396.01" stroke="#777" stroke-width="0.6"/>
<line x1="286.7" y1="396.01" x2="284.7" y2="396.01" stroke="#777" stroke-width="0.6"/>
<line x1="222.2" y1="413.66" x2="224.2" y2="413.66" stroke="#777" stroke-width="0.6"/>
<line x1="286.7" y1="413.66" x2="284.7" y2="413.66" stroke="#777" stroke-width="0.6"/>
<text x="222.2" y="439.5" font-family='"Liberation Serif", serif' font-size="6" fill="#333" text-anchor="middle">1</text>
<text x="243.7" y="439.5" font-family='"Liberation Serif", serif' font-size="6" fill="#333" text-anchor="middle">2</text>
<text x="265.2" y="439.5" font-family='"Liberation Serif", serif' font-size="6" fill="#333" text-anchor="middle">3</text>
<text x="286.7" y="439.5" font-family='"Liberation Serif", serif' font-size="6" fill="#333" text-anchor="middle">4</text>
<text x="111.9" y="304.2" font-family='"Liberation Serif", serif' font-size="11" font-weight="bold" fill="#111" text-anchor="middle">Repulsive</text>
<text x="183.3" y="304.2" font-family='"Liberation Serif", serif' font-size="11" font-weight="bold" fill="#111" text-anchor="middle">Attractive</text>
<text x="254.7" y="304.2" font-family='"Liberation Serif", serif' font-size="11" font-weight="bold" fill="#111" text-anchor="middle">Difference</text>
<text x="82.3" y="429.5" font-family='"Liberation Serif", serif' font-size="11" font-weight="bold" fill="#111">(a)</text>
<text x="154.5" y="429.5" font-family='"Liberation Serif", serif' font-size="11" font-weight="bold" fill="#111">(b)</text>
<text x="226.9" y="429.5" font-family='"Liberation Serif", serif' font-size="11" font-weight="bold" fill="#111">(c)</text>
<text x="181.2" y="448.3" font-family='"Liberation Serif", serif' font-size="10" font-weight="bold" fill="#111" text-anchor="middle">Lateral Distance (μm)</text>
<text transform="translate(75.6,370) rotate(-90)" font-family='"Liberation Serif", serif' font-size="8.6" font-weight="bold" fill="#111" text-anchor="middle">MFM Response (arb. units)</text>
<polyline points="79.6,321.82 80.09,321.62 80.58,322.1 81.07,321.49 81.57,321.93 82.06,321.73 82.55,321.39 83.04,321.81 83.53,321.32 84.02,321.68 84.52,321.29 85.01,321.29 85.5,321.59 85.99,321.97 86.48,321.24 86.97,321.31 87.46,321.68 87.96,321.98 88.45,321.58 88.94,321.37 89.43,321.92 89.92,320.96 90.41,321.75 90.91,321.15 91.4,320.98 91.89,320.92 92.38,321.09 92.87,321.57 93.36,320.9 93.85,321.27 94.35,321.3 94.84,321.01 95.33,321.15 95.82,320.64 96.31,320.6 96.8,320.71 97.3,321.15 97.79,320.86 98.28,320.71 98.77,320.93 99.26,320.76 99.75,320.55 100.24,320.99 100.74,320.83 101.23,320.31 101.72,320.57 102.21,320.44 102.7,320.7 103.19,320.47 103.69,319.92 104.18,320.51 104.67,319.53 105.16,319.7 105.65,319.9 106.14,319.14 106.63,319.29 107.13,318.61 107.62,318.96 108.11,318.7 108.6,318.05 109.09,317.78 109.58,316.53 110.08,316.09 110.57,315.06 111.06,314.05 111.55,312.91 112.04,312.35 112.53,311.65 113.02,310.6 113.52,310.49 114.01,309.9 114.5,310.88 114.99,311.45 115.48,312.64 115.97,313.46 116.47,313.98 116.96,315.11 117.45,316.35 117.94,316.54 118.43,317.66 118.92,317.91 119.41,318.27 119.91,318.51 120.4,319.43 120.89,318.92 121.38,319.13 121.87,319.32 122.36,319.83 122.86,319.04 123.35,319.41 123.84,319.5 124.33,319.82 124.82,319.74 125.31,319.77 125.8,319.16 126.3,319.27 126.79,319.19 127.28,319.69 127.77,319.74 128.26,318.91 128.75,318.9 129.25,318.93 129.74,318.91 130.23,319.13 130.72,319.21 131.21,318.85 131.7,318.57 132.19,318.96 132.69,318.88 133.18,319.05 133.67,319.41 134.16,319.12 134.65,318.91 135.14,318.99 135.64,319.02 136.13,318.37 136.62,319.19 137.11,319.04 137.6,319.11 138.09,319 138.58,318.57 139.08,318.55 139.57,318.23 140.06,318.73 140.55,318.13 141.04,318.11 141.53,318.22 142.03,318.15 142.52,318.3 143.01,317.98 143.5,317.9" fill="none" stroke="#111" stroke-width="1.6" stroke-linejoin="round"/>
<polyline points="79.6,354.25 79.92,354.18 80.24,354.43 80.56,354.07 80.88,354.9 81.2,354.62 81.52,354.14 81.84,354.23 82.16,354.3 82.48,354.3 82.79,354.04 83.11,354.75 83.43,354.88 83.75,354.33 84.07,354.33 84.39,353.92 84.71,353.91 85.03,354.14 85.35,354.04 85.67,354.59 85.99,353.9 86.31,353.75 86.63,354.65 86.95,354.21 87.27,353.81 87.59,354.19 87.91,353.66 88.23,354.14 88.55,354.57 88.87,354.44 89.19,354.26 89.5,353.8 89.82,353.89 90.14,353.67 90.46,354.26 90.78,354 91.1,354.23 91.42,353.76 91.74,353.64 92.06,354.21 92.38,354.36 92.7,354.21 93.02,354.15 93.34,354.14 93.66,354.05 93.98,353.52 94.3,353.79 94.62,353.61 94.94,353.26 95.26,353.25 95.57,353.48 95.89,353.44 96.21,353.86 96.53,354.1 96.85,353.58 97.17,354.05 97.49,354.08 97.81,354.03 98.13,353.42 98.45,353.26 98.77,353.25 99.09,353.2 99.41,353.19 99.73,353.59 100.05,353.85 100.37,353.77 100.69,353.38 101.01,353.54 101.33,353.66 101.65,352.92 101.96,353.47 102.28,353.69 102.6,353.53 102.92,353.45 103.24,353.13 103.56,352.78 103.88,353.33 104.2,352.8 104.52,353.18 104.84,353.24 105.16,352.55 105.48,352.42 105.8,352.82 106.12,352.43 106.44,351.69 106.76,351.45 107.08,351.26 107.4,351.8 107.72,351.48 108.04,350.6 108.36,351.06 108.67,351 108.99,350.47 109.31,349.9 109.63,349.7 109.95,348.57 110.27,347.14 110.59,345.89 110.91,342.31 111.23,338.1 111.55,334.34 111.87,330.71 112.19,330.09 112.2,330.05 112.51,330.88 112.83,334.55 113.15,339.49 113.47,344.69 113.79,350.1 114.11,354.41 114.43,358.42 114.75,360.61 114.9,361.94 115.06,361.47 115.38,360.57 115.7,358.89 116.02,357.54 116.34,355.99 116.66,355.98 116.98,355.38 117.3,355.34 117.62,355.27 117.94,354.66 118.26,354.93 118.58,354.48 118.9,354.09 119.22,354.65 119.54,353.78 119.86,353.83 120.18,353.85 120.5,353.45 120.82,353.01 121.13,353.02 121.45,352.89 121.77,352.97 122.09,352.17 122.41,352.52 122.73,352.12 123.05,352.08 123.37,352.52 123.69,352.2 124.01,352.21 124.33,352.38 124.65,352.5 124.97,352 125.29,352.15 125.61,352.02 125.93,352.01 126.25,352.17 126.57,351.91 126.89,351.97 127.21,351.9 127.52,352.34 127.84,352.08 128.16,352.24 128.48,352.29 128.8,351.59 129.12,351.87 129.44,352.24 129.76,352.11 130.08,351.39 130.4,351.36 130.72,351.66 131.04,351.27 131.36,351.42 131.68,351.24 132,351.82 132.32,351.91 132.64,352.01 132.96,351.25 133.28,351.79 133.6,351.72 133.92,351.18 134.23,351.9 134.55,351.97 134.87,351.21 135.19,351.92 135.51,351.35 135.83,351.42 136.15,351.9 136.47,351.73 136.79,351.04 137.11,351.29 137.43,351.36 137.75,351.16 138.07,351 138.39,351.11 138.71,351.49 139.03,350.77 139.35,351.29 139.67,351.16 139.99,350.72 140.31,351.01 140.62,351.29 140.94,351.16 141.26,350.69 141.58,351.59 141.9,351.38 142.22,351.54 142.54,350.66 142.86,350.8 143.18,350.56 143.5,351.28" fill="none" stroke="#111" stroke-width="1.2" stroke-linejoin="round"/>
<polyline points="79.6,395.27 79.85,395.1 80.09,395.37 80.34,395.84 80.58,395.72 80.83,395.13 81.07,395 81.32,395.74 81.57,395.37 81.81,395.48 82.06,394.84 82.3,394.78 82.55,395.39 82.79,395.1 83.04,394.72 83.29,395.56 83.53,395.23 83.78,395.38 84.02,394.63 84.27,395.38 84.52,394.57 84.76,395.34 85.01,394.9 85.25,394.76 85.5,394.95 85.74,395.3 85.99,394.62 86.24,394.45 86.48,394.83 86.73,394.51 86.97,394.36 87.22,394.39 87.46,394.25 87.71,394.38 87.96,394.46 88.2,394.43 88.45,394.86 88.69,394.36 88.94,394.55 89.19,394.2 89.43,394.35 89.68,393.99 89.92,394.2 90.17,393.94 90.41,394.63 90.66,394.43 90.91,394.04 91.15,394.3 91.4,394.73 91.64,393.88 91.89,394.57 92.13,394.16 92.38,394.2 92.63,394.51 92.87,394.04 93.12,394.13 93.36,394.29 93.61,394.56 93.85,393.89 94.1,394.36 94.35,394.21 94.59,394.11 94.84,393.85 95.08,393.77 95.33,393.45 95.57,393.5 95.82,393.42 96.07,394.07 96.31,393.56 96.56,393.44 96.8,393.33 97.05,394.07 97.3,394.07 97.54,393.85 97.79,393.43 98.03,393.37 98.28,393.39 98.52,393.53 98.77,393.21 99.02,393.47 99.26,393.26 99.51,393.93 99.75,393.91 100,393.46 100.24,393.13 100.49,393.81 100.74,393.12 100.98,393.13 101.23,392.73 101.47,393.07 101.72,393.11 101.97,393.07 102.21,392.7 102.46,392.93 102.7,392.33 102.95,392.49 103.19,392.19 103.44,392.36 103.69,391.84 103.93,391.64 104.18,391.72 104.42,391.42 104.67,391.53 104.91,391.2 105.16,391.14 105.41,390.75 105.65,390.49 105.9,390.33 106.14,389.52 106.39,389.13 106.63,389.48 106.88,388.35 107.13,388.65 107.37,388.33 107.62,387.53 107.86,388.16 108.11,388.1 108.35,387.76 108.6,387.81 108.85,387.8 109.09,386.82 109.34,386.39 109.58,384.6 109.83,381.84 110.08,377.48 110.32,372.76 110.57,368.88 110.8,368.14 110.81,367.95 111.06,370.15 111.3,374.47 111.55,380.43 111.8,387.37 112.04,395.52 112.29,405.11 112.53,417 112.78,426.07 113,429.62 113.02,429.62 113.27,425.74 113.52,416.72 113.76,406.96 114.01,401.13 114.25,397.62 114.5,396.04 114.75,395.73 114.99,395.85 115.24,395.3 115.48,395.99 115.73,395.49 115.97,395.25 116.22,395.34 116.47,395.66 116.71,394.96 116.96,395.29 117.2,395.3 117.45,394.57 117.69,394.2 117.94,394.04 118.19,393.98 118.43,393.8 118.68,393.4 118.92,393.18 119.17,392.39 119.41,392.24 119.66,392.15 119.91,392.46 120.15,391.86 120.4,391.98 120.64,391.3 120.89,391.23 121.13,391.34 121.38,391.66 121.63,391.6 121.87,391.52 122.12,391.08 122.36,391.25 122.61,391.15 122.86,391.11 123.1,390.73 123.35,391.47 123.59,390.74 123.84,391.49 124.08,391.42 124.33,390.47 124.58,390.89 124.82,391.22 125.07,391.35 125.31,390.8 125.56,390.59 125.8,390.51 126.05,391.22 126.3,390.46 126.54,390.81 126.79,390.34 127.03,390.7 127.28,391.1 127.53,390.26 127.77,390.92 128.02,390.58 128.26,390.94 128.51,390.73 128.75,390.23 129,390.87 129.25,390.44 129.49,389.95 129.74,389.9 129.98,390.37 130.23,390.3 130.47,390.13 130.72,389.94 130.97,390.12 131.21,390.07 131.46,390.57 131.7,389.7 131.95,390.43 132.19,390.49 132.44,389.75 132.69,390.53 132.93,390.29 133.18,390.45 133.42,389.81 133.67,389.87 133.91,389.87 134.16,390.45 134.41,390.01 134.65,389.76 134.9,389.8 135.14,389.63 135.39,389.37 135.64,389.4 135.88,390.11 136.13,389.54 136.37,390.16 136.62,389.45 136.86,389.44 137.11,389.66 137.36,389.31 137.6,389.47 137.85,390.03 138.09,389.93 138.34,389.84 138.58,389.63 138.83,389.89 139.08,389.89 139.32,389.47 139.57,389.62 139.81,388.92 140.06,389.58 140.31,389.28 140.55,389.55 140.8,389.42 141.04,389.04 141.29,388.77 141.53,389.63 141.78,388.8 142.03,389.12 142.27,388.97 142.52,388.9 142.76,389.31 143.01,389.53 143.25,388.79 143.5,389.16" fill="none" stroke="#111" stroke-width="0.9" stroke-linejoin="round"/>
<polyline points="150.8,315.42 151.29,315.71 151.78,315.57 152.27,315.38 152.77,315.4 153.26,315.48 153.75,316.22 154.24,315.84 154.73,315.6 155.22,316.32 155.72,316.45 156.21,315.94 156.7,315.67 157.19,315.77 157.68,315.71 158.17,316 158.66,315.8 159.16,315.99 159.65,316.06 160.14,316.42 160.63,316.79 161.12,316.71 161.61,316.43 162.11,316.49 162.6,316.66 163.09,316.58 163.58,316.61 164.07,316.4 164.56,316.69 165.05,317.45 165.55,316.69 166.04,317.15 166.53,317.36 167.02,317.68 167.51,317.13 168,317.29 168.5,317.37 168.99,317.63 169.48,317.79 169.97,318.42 170.46,318.45 170.95,318.61 171.44,317.9 171.94,318.07 172.43,318.91 172.92,319.28 173.41,319.04 173.9,319.36 174.39,318.99 174.89,319.62 175.38,320.42 175.87,320.6 176.36,320.94 176.85,321.4 177.34,321.05 177.83,321.33 178.33,321.85 178.82,322.75 179.31,323.5 179.8,324.44 180.29,325 180.78,325.82 181.28,326.96 181.77,327.85 182,328.57 182.26,327.38 182.75,326.98 183.24,325.44 183.73,325.28 184.22,324.27 184.72,323.29 185.21,322.55 185.7,322.19 186.19,322.14 186.68,321.82 187.17,320.89 187.67,320.55 188.16,320.73 188.65,320.54 189.14,320.12 189.63,319.76 190.12,319.95 190.61,319.19 191.11,319.33 191.6,319.35 192.09,319.72 192.58,319.28 193.07,319.41 193.56,318.9 194.06,318.57 194.55,318.49 195.04,319.12 195.53,318.79 196.02,318.33 196.51,317.98 197,318.4 197.5,318.52 197.99,318.21 198.48,318 198.97,318.37 199.46,318.59 199.95,317.85 200.45,317.63 200.94,317.9 201.43,317.95 201.92,318.19 202.41,317.68 202.9,318.26 203.39,318.18 203.89,317.93 204.38,317.62 204.87,318.37 205.36,317.7 205.85,318.2 206.34,317.6 206.84,317.58 207.33,318.11 207.82,317.64 208.31,318.3 208.8,317.84 209.29,317.53 209.78,317.57 210.28,317.76 210.77,318.01 211.26,318.3 211.75,317.5 212.24,317.75 212.73,317.57 213.23,318.34 213.72,317.51 214.21,317.43 214.7,317.45" fill="none" stroke="#111" stroke-width="1.6" stroke-linejoin="round"/>
<polyline points="150.8,342.52 151.12,343.05 151.44,343.06 151.76,342.94 152.08,343.23 152.4,343.19 152.72,342.62 153.04,342.5 153.36,343.28 153.68,343.12 154,342.43 154.31,343.1 154.63,342.84 154.95,342.87 155.27,342.85 155.59,342.72 155.91,342.59 156.23,342.9 156.55,343 156.87,343.64 157.19,342.84 157.51,343.72 157.83,342.99 158.15,343.18 158.47,343.68 158.79,343.72 159.11,343.37 159.43,343.02 159.75,343.48 160.07,343.42 160.39,344.01 160.7,343.33 161.02,343.54 161.34,344.12 161.66,343.3 161.98,343.72 162.3,344.17 162.62,344.18 162.94,343.5 163.26,343.55 163.58,343.63 163.9,344.54 164.22,343.93 164.54,344.48 164.86,344.69 165.18,344.2 165.5,344.19 165.82,344.94 166.14,344.67 166.46,344.39 166.78,344.92 167.09,344.59 167.41,344.63 167.73,344.44 168.05,345.28 168.37,345.53 168.69,345.34 169.01,345.75 169.33,344.94 169.65,345.25 169.97,345.6 170.29,346.2 170.61,346.32 170.93,345.88 171.25,345.88 171.57,346.2 171.89,346.42 172.21,347.01 172.53,346.43 172.85,347.22 173.16,347.34 173.48,347.62 173.8,347.77 174.12,347.82 174.44,347.77 174.76,348.01 175.08,348.31 175.4,349 175.72,348.59 176.04,349.02 176.36,349.91 176.68,349.76 177,349.97 177.32,350.35 177.64,351.33 177.96,351.59 178.28,352.79 178.6,353.3 178.92,354.08 179.24,354.11 179.56,354.8 179.87,355.81 180.19,357.37 180.51,358.95 180.83,360.34 181.15,362.12 181.47,364.75 181.79,367.99 182.11,371.86 182.43,376.77 182.5,378.08 182.75,373.83 183.07,369.1 183.39,366.5 183.71,363.3 184.03,361.42 184.35,359.48 184.67,358.39 184.99,356.63 185.31,355.65 185.63,354.76 185.94,353.9 186.26,353.95 186.58,353.04 186.9,352.25 187.22,351.84 187.54,351.99 187.86,351.11 188.18,350.46 188.5,350.7 188.82,350.23 189.14,350.28 189.46,349.12 189.78,349.24 190.1,349.35 190.42,349.16 190.74,349.03 191.06,347.96 191.38,348.04 191.7,347.69 192.02,347.61 192.33,348.25 192.65,347.72 192.97,347.94 193.29,347.26 193.61,347.64 193.93,347.11 194.25,346.82 194.57,347.25 194.89,347.33 195.21,346.4 195.53,346.82 195.85,346.77 196.17,346.3 196.49,346.38 196.81,346.1 197.13,346.1 197.45,346.1 197.77,346.39 198.09,346.4 198.41,345.91 198.72,345.67 199.04,345.95 199.36,346.26 199.68,345.74 200,345.83 200.32,345.69 200.64,346.26 200.96,345.98 201.28,345.47 201.6,345.49 201.92,345.76 202.24,345.9 202.56,345.97 202.88,345.4 203.2,345.46 203.52,345.98 203.84,345.68 204.16,345.54 204.48,345.55 204.8,346.19 205.12,345.53 205.43,345.78 205.75,345.56 206.07,345.61 206.39,346.06 206.71,346.18 207.03,345.55 207.35,345.37 207.67,345.9 207.99,345.37 208.31,345.17 208.63,346.07 208.95,345.59 209.27,345.98 209.59,345.57 209.91,346.05 210.23,345.63 210.55,345.33 210.87,345.18 211.19,345.72 211.5,345.81 211.82,346.08 212.14,345.27 212.46,345.8 212.78,345.55 213.1,345.69 213.42,345.34 213.74,345.48 214.06,345.72 214.38,346.13 214.7,345.32" fill="none" stroke="#111" stroke-width="1.2" stroke-linejoin="round"/>
<polyline points="150.8,370.4 151.05,370.73 151.29,370.91 151.54,370.16 151.78,370.11 152.03,370.94 152.27,370.99 152.52,370.52 152.77,370.11 153.01,371 153.26,370.49 153.5,371.02 153.75,370.76 154,370.99 154.24,370.34 154.49,370.99 154.73,370.45 154.98,370.66 155.22,371.12 155.47,371.13 155.72,370.51 155.96,370.57 156.21,370.77 156.45,370.92 156.7,370.81 156.94,370.57 157.19,370.72 157.44,371.23 157.68,371.43 157.93,370.6 158.17,371.15 158.42,371.38 158.66,370.69 158.91,371.52 159.16,370.83 159.4,371.34 159.65,371.32 159.89,371.43 160.14,371.14 160.39,371.29 160.63,371.49 160.88,371.37 161.12,371.64 161.37,371.46 161.61,371.49 161.86,371.11 162.11,371.75 162.35,371.66 162.6,371.45 162.84,372.02 163.09,372.07 163.33,371.8 163.58,371.56 163.83,371.9 164.07,371.58 164.32,371.65 164.56,372 164.81,371.71 165.05,372.11 165.3,372.23 165.55,371.82 165.79,372.47 166.04,371.97 166.28,372.68 166.53,372.79 166.78,372.58 167.02,372.19 167.27,372.7 167.51,372.64 167.76,373.28 168,372.54 168.25,373.33 168.5,373.55 168.74,373.36 168.99,373.53 169.23,372.99 169.48,373.86 169.72,373.46 169.97,374.02 170.22,374.07 170.46,373.42 170.71,374.15 170.95,374.39 171.2,373.64 171.44,374.04 171.69,374.57 171.94,374.09 172.18,374.96 172.43,374.48 172.67,375.16 172.92,374.63 173.16,375.15 173.41,375.73 173.66,375.19 173.9,375.42 174.15,375.85 174.39,375.86 174.64,375.78 174.89,376.15 175.13,376.36 175.38,377.37 175.62,377.37 175.87,377.86 176.11,377.41 176.36,378.33 176.61,377.98 176.85,378.73 177.1,379.2 177.34,379.3 177.59,380.22 177.83,380.33 178.08,380.81 178.33,381.61 178.57,381.35 178.82,382.8 179.06,383.05 179.31,383.46 179.56,384.58 179.8,384.82 180.05,386.39 180.29,386.93 180.54,387.77 180.78,389.37 181.03,390.43 181.28,391.79 181.52,394.29 181.77,395.94 182.01,399.64 182.26,402.77 182.5,407.93 182.75,414.54 183,422.49 183.2,431.67 183.24,429.28 183.49,418.82 183.73,411.3 183.98,405.72 184.22,401.83 184.47,398.24 184.72,395.62 184.96,393.82 185.21,391.25 185.45,389.82 185.7,388.94 185.94,387.18 186.19,386.15 186.44,385.6 186.68,384.54 186.93,384.05 187.17,383.24 187.42,382.98 187.67,382.4 187.91,381.48 188.16,381.4 188.4,380.78 188.65,380 188.89,380.39 189.14,379.31 189.39,378.86 189.63,378.46 189.88,378.69 190.12,378.62 190.37,378.24 190.61,377.6 190.86,377.2 191.11,376.71 191.35,377.12 191.6,376.82 191.84,376.41 192.09,376.51 192.34,376.12 192.58,376.44 192.83,376.08 193.07,375.43 193.32,375.94 193.56,374.94 193.81,375.29 194.06,375.04 194.3,374.74 194.55,374.45 194.79,375.06 195.04,374.18 195.28,374.62 195.53,374.91 195.78,374.02 196.02,373.98 196.27,374.3 196.51,374.12 196.76,374.17 197,374.27 197.25,373.56 197.5,373.62 197.74,373.54 197.99,373.22 198.23,374 198.48,373.83 198.72,373.71 198.97,372.94 199.22,373.72 199.46,373.57 199.71,373.24 199.95,373.46 200.2,373.13 200.45,372.85 200.69,372.69 200.94,372.77 201.18,372.53 201.43,372.79 201.67,373.16 201.92,373.07 202.17,373.18 202.41,373.01 202.66,372.53 202.9,372.78 203.15,372.63 203.39,372.95 203.64,372.66 203.89,372.37 204.13,372.72 204.38,373.01 204.62,372.23 204.87,372.87 205.11,371.98 205.36,372.2 205.61,372.15 205.85,372.63 206.1,372.81 206.34,372.59 206.59,372.15 206.84,372.68 207.08,372.1 207.33,371.99 207.57,372.64 207.82,372.35 208.06,372.39 208.31,372.34 208.56,372.64 208.8,372.11 209.05,372.47 209.29,372.31 209.54,372.45 209.78,372.02 210.03,372.29 210.28,372.12 210.52,371.84 210.77,371.73 211.01,372.13 211.26,371.57 211.5,372.39 211.75,371.62 212,371.49 212.24,371.56 212.49,372.37 212.73,371.77 212.98,371.56 213.23,371.44 213.47,371.44 213.72,372.08 213.96,372.01 214.21,372.07 214.45,372.1 214.7,371.42" fill="none" stroke="#111" stroke-width="0.9" stroke-linejoin="round"/>
<polyline points="222.7,319.69 223.19,319.45 223.68,319.89 224.17,319.88 224.65,319.93 225.14,319.09 225.63,319.88 226.12,319.91 226.61,319.93 227.1,319.08 227.58,319.16 228.07,319.06 228.56,318.97 229.05,319.77 229.54,319.72 230.03,319.53 230.52,319.71 231,319.5 231.49,319.15 231.98,318.95 232.47,318.94 232.96,319.6 233.45,319.04 233.93,319.16 234.42,319.26 234.91,318.86 235.4,319.11 235.89,319.14 236.38,319.59 236.87,319.27 237.35,319.25 237.84,319.92 238.33,319.5 238.82,319.9 239.31,319.72 239.8,319.19 240.28,319.65 240.77,319.76 241.26,320.18 241.75,319.86 242.24,320.33 242.73,320.29 243.22,320.1 243.7,320.89 244.19,320.28 244.68,321.17 245.17,320.69 245.66,320.7 246.15,321.09 246.63,321.84 247.12,322.25 247.61,321.47 248.1,322.15 248.59,322.34 249.08,322.83 249.57,322.4 250.05,322.88 250.54,322.89 251.03,323.52 251.52,323.07 252.01,323.87 252.5,323.3 252.98,323.3 253.47,323.83 253.96,323.65 254.45,323.26 254.94,323.76 255.43,323.16 255.92,323.79 256.4,323.61 256.89,323.59 257.38,323.29 257.87,322.87 258.36,322.74 258.85,322.55 259.33,322.85 259.82,321.84 260.31,322.43 260.8,321.35 261.29,321.31 261.78,321.14 262.27,321.55 262.75,320.93 263.24,320.59 263.73,320.89 264.22,320.04 264.71,320.07 265.2,319.95 265.68,320 266.17,319.83 266.66,319.57 267.15,319.13 267.64,318.97 268.13,318.68 268.62,319.25 269.1,318.97 269.59,318.95 270.08,318.29 270.57,318.48 271.06,318.75 271.55,318.49 272.03,317.98 272.52,318.27 273.01,318.64 273.5,317.95 273.99,317.87 274.48,317.94 274.97,318.32 275.45,318.43 275.94,317.71 276.43,317.69 276.92,317.76 277.41,317.82 277.9,317.99 278.38,317.61 278.87,317.76 279.36,317.6 279.85,318.37 280.34,318.11 280.83,317.47 281.32,318.31 281.8,317.44 282.29,317.7 282.78,318.29 283.27,318.08 283.76,318.01 284.25,317.69 284.73,317.44 285.22,317.87 285.71,317.32 286.2,317.41" fill="none" stroke="#111" stroke-width="1.6" stroke-linejoin="round"/>
<polyline points="222.7,344.78 223.02,344.42 223.33,344.78 223.65,345.16 223.97,345.06 224.29,344.87 224.6,344.99 224.92,344.82 225.24,344.5 225.56,344.95 225.88,344.75 226.19,345.09 226.51,345.25 226.83,344.77 227.14,344.91 227.46,345.09 227.78,344.76 228.1,344.56 228.41,345.06 228.73,345.21 229.05,345.11 229.37,345.04 229.69,345.19 230,345.02 230.32,344.98 230.64,344.8 230.95,344.66 231.27,344.98 231.59,344.45 231.91,344.78 232.22,345.14 232.54,345.08 232.86,345 233.18,344.63 233.49,344.81 233.81,344.85 234.13,345.03 234.45,344.82 234.76,345.1 235.08,345.37 235.4,344.63 235.72,345.11 236.03,345.25 236.35,344.88 236.67,345 236.99,345.5 237.3,344.58 237.62,345.1 237.94,344.74 238.26,345.39 238.57,345.57 238.89,345.17 239.21,344.78 239.53,345.28 239.84,345.28 240.16,345.49 240.48,345.32 240.8,345.48 241.11,345.71 241.43,345.44 241.75,345.38 242.07,345.96 242.38,345.27 242.7,345.8 243.02,345.56 243.34,345.99 243.65,345.41 243.97,346.34 244.29,345.78 244.61,345.55 244.92,345.85 245.24,346.06 245.56,345.76 245.88,346.25 246.19,346.35 246.51,346.74 246.83,346.5 247.15,346.53 247.46,346.61 247.78,347.26 248.1,347.6 248.42,347.34 248.73,347.19 249.05,347.94 249.37,347.71 249.69,347.73 250,347.85 250.32,348.73 250.64,349 250.96,349.09 251.27,349.2 251.59,349.61 251.91,349.61 252.23,350.73 252.54,350.54 252.86,351.3 253.18,352.01 253.5,352.62 253.81,352.98 254.13,353.63 254.45,354.86 254.77,355.6 255.08,357.71 255.4,358.93 255.72,361.52 256.04,363.53 256.1,364.21 256.36,361.86 256.67,359.73 256.99,357.62 257.31,355.91 257.62,355.35 257.94,353.84 258.26,352.9 258.58,352.18 258.89,351.69 259.21,351.05 259.53,350.74 259.85,350.3 260.16,349.59 260.48,349.77 260.8,349.35 261.12,348.24 261.44,348.72 261.75,348.52 262.07,348.14 262.39,347.26 262.7,347.73 263.02,347.32 263.34,346.5 263.66,346.31 263.97,347.08 264.29,346.61 264.61,346.05 264.93,345.75 265.25,345.65 265.56,345.6 265.88,346.01 266.2,345.46 266.51,345.14 266.83,345.78 267.15,345.56 267.47,344.84 267.78,345.46 268.1,345.08 268.42,345.16 268.74,344.96 269.06,345.11 269.37,344.92 269.69,344.89 270.01,344.18 270.32,344.6 270.64,344.37 270.96,344.52 271.28,344.15 271.59,344.53 271.91,344.15 272.23,343.8 272.55,343.71 272.87,343.56 273.18,343.87 273.5,343.38 273.82,343.74 274.13,343.37 274.45,343.67 274.77,343.64 275.09,343.63 275.4,343.92 275.72,343.02 276.04,343.81 276.36,343.4 276.68,343.46 276.99,343.53 277.31,343.67 277.63,343.17 277.94,343.17 278.26,343.68 278.58,342.77 278.9,343.3 279.21,343.26 279.53,342.63 279.85,343.18 280.17,343.22 280.49,343.44 280.8,342.81 281.12,343.44 281.44,342.94 281.75,342.89 282.07,343.27 282.39,342.38 282.71,343.04 283.02,342.92 283.34,342.61 283.66,343.11 283.98,342.59 284.29,342.68 284.61,342.71 284.93,342.93 285.25,342.35 285.56,342.55 285.88,342.52 286.2,342.63" fill="none" stroke="#111" stroke-width="1.2" stroke-linejoin="round"/>
<polyline points="222.7,371.38 222.94,370.84 223.19,371.38 223.43,370.95 223.68,371.05 223.92,370.82 224.17,371.06 224.41,371.53 224.65,371.21 224.9,371.35 225.14,370.89 225.39,370.88 225.63,370.86 225.88,371.15 226.12,371.2 226.36,371.36 226.61,370.62 226.85,371.3 227.1,371.47 227.34,371.14 227.58,370.65 227.83,370.9 228.07,370.62 228.32,370.81 228.56,371.54 228.81,371.24 229.05,371.3 229.29,371.43 229.54,371.56 229.78,371.27 230.03,371.29 230.27,371.31 230.52,371.39 230.76,371.3 231,371.4 231.25,370.94 231.49,371.41 231.74,371.21 231.98,371.53 232.22,370.88 232.47,370.98 232.71,370.85 232.96,371.6 233.2,371.76 233.45,371.52 233.69,371.25 233.93,371.72 234.18,371.7 234.42,371.5 234.67,371.22 234.91,371.28 235.16,371.43 235.4,371.35 235.64,371.48 235.89,371.72 236.13,372.04 236.38,371.19 236.62,371.73 236.87,371.23 237.11,371.34 237.35,372.06 237.6,371.86 237.84,372.24 238.09,371.8 238.33,371.41 238.57,371.82 238.82,372.06 239.06,372.45 239.31,372.54 239.55,372.08 239.8,372.06 240.04,371.8 240.28,372.39 240.53,372.01 240.77,372 241.02,371.92 241.26,371.97 241.51,372.71 241.75,372.21 241.99,373.12 242.24,372.31 242.48,373.17 242.73,372.5 242.97,372.47 243.22,373.25 243.46,372.86 243.7,373.44 243.95,372.99 244.19,372.95 244.44,373.77 244.68,373.82 244.92,374.07 245.17,374.06 245.41,373.54 245.66,374.21 245.9,374.42 246.15,374.31 246.39,374.93 246.63,374.41 246.88,375.28 247.12,375.21 247.37,374.68 247.61,374.87 247.86,375.71 248.1,376.08 248.34,375.57 248.59,376.03 248.83,376.69 249.08,376.39 249.32,377.36 249.57,377.27 249.81,377.15 250.05,377.78 250.3,378.34 250.54,378.56 250.79,379.19 251.03,379.06 251.27,380.15 251.52,380.18 251.76,380.96 252.01,381.48 252.25,381.84 252.5,382.42 252.74,383.49 252.98,384.39 253.23,385.04 253.47,385.72 253.72,386.47 253.96,387.41 254.21,389.7 254.45,391.05 254.69,393.16 254.94,395.12 255.18,398.49 255.43,402.86 255.67,407.96 255.92,414.72 256.16,423.84 256.3,430.84 256.4,426.08 256.65,415.69 256.89,408.68 257.14,403.11 257.38,399.22 257.62,395.88 257.87,392.8 258.11,390.45 258.36,389.02 258.6,387.75 258.85,386.69 259.09,385.85 259.33,384.98 259.58,383.29 259.82,383.31 260.07,382.59 260.31,382 260.56,381.1 260.8,380.24 261.04,380.29 261.29,379.76 261.53,379.17 261.78,378.97 262.02,377.99 262.27,377.33 262.51,377.43 262.75,377.33 263,376.4 263.24,376.63 263.49,376.52 263.73,375.53 263.97,375.64 264.22,375.45 264.46,374.99 264.71,374.5 264.95,374.32 265.2,374.61 265.44,374.44 265.68,373.92 265.93,373.36 266.17,373.9 266.42,373.69 266.66,372.99 266.91,373.18 267.15,373.34 267.39,373.18 267.64,372.68 267.88,372.5 268.13,372.48 268.37,371.96 268.62,371.84 268.86,371.71 269.1,372.12 269.35,371.67 269.59,371.77 269.84,371.51 270.08,371.52 270.32,371.06 270.57,370.86 270.81,371.73 271.06,371.02 271.3,370.66 271.55,371.11 271.79,371.18 272.03,370.47 272.28,370.84 272.52,370.51 272.77,370.62 273.01,370.05 273.26,369.99 273.5,370.88 273.74,370.69 273.99,370.25 274.23,370.27 274.48,369.91 274.72,370.36 274.97,369.95 275.21,370.42 275.45,370.18 275.7,370.18 275.94,370.27 276.19,369.51 276.43,369.24 276.68,369.36 276.92,369.29 277.16,369.14 277.41,369.06 277.65,369.52 277.9,369.79 278.14,369.34 278.38,369.78 278.63,369.7 278.87,368.81 279.12,369.31 279.36,369.07 279.61,368.75 279.85,369.55 280.09,368.81 280.34,369.08 280.58,369.12 280.83,369.39 281.07,369.07 281.32,368.76 281.56,368.78 281.8,368.46 282.05,369.23 282.29,369.22 282.54,368.42 282.78,368.2 283.02,368.39 283.27,368.45 283.51,368.97 283.76,368.94 284,368.84 284.25,368.02 284.49,368.73 284.73,368.63 284.98,368.53 285.22,368.84 285.47,367.89 285.71,367.95 285.96,368.53 286.2,368.69" fill="none" stroke="#111" stroke-width="0.9" stroke-linejoin="round"/>
</svg></body></html>
